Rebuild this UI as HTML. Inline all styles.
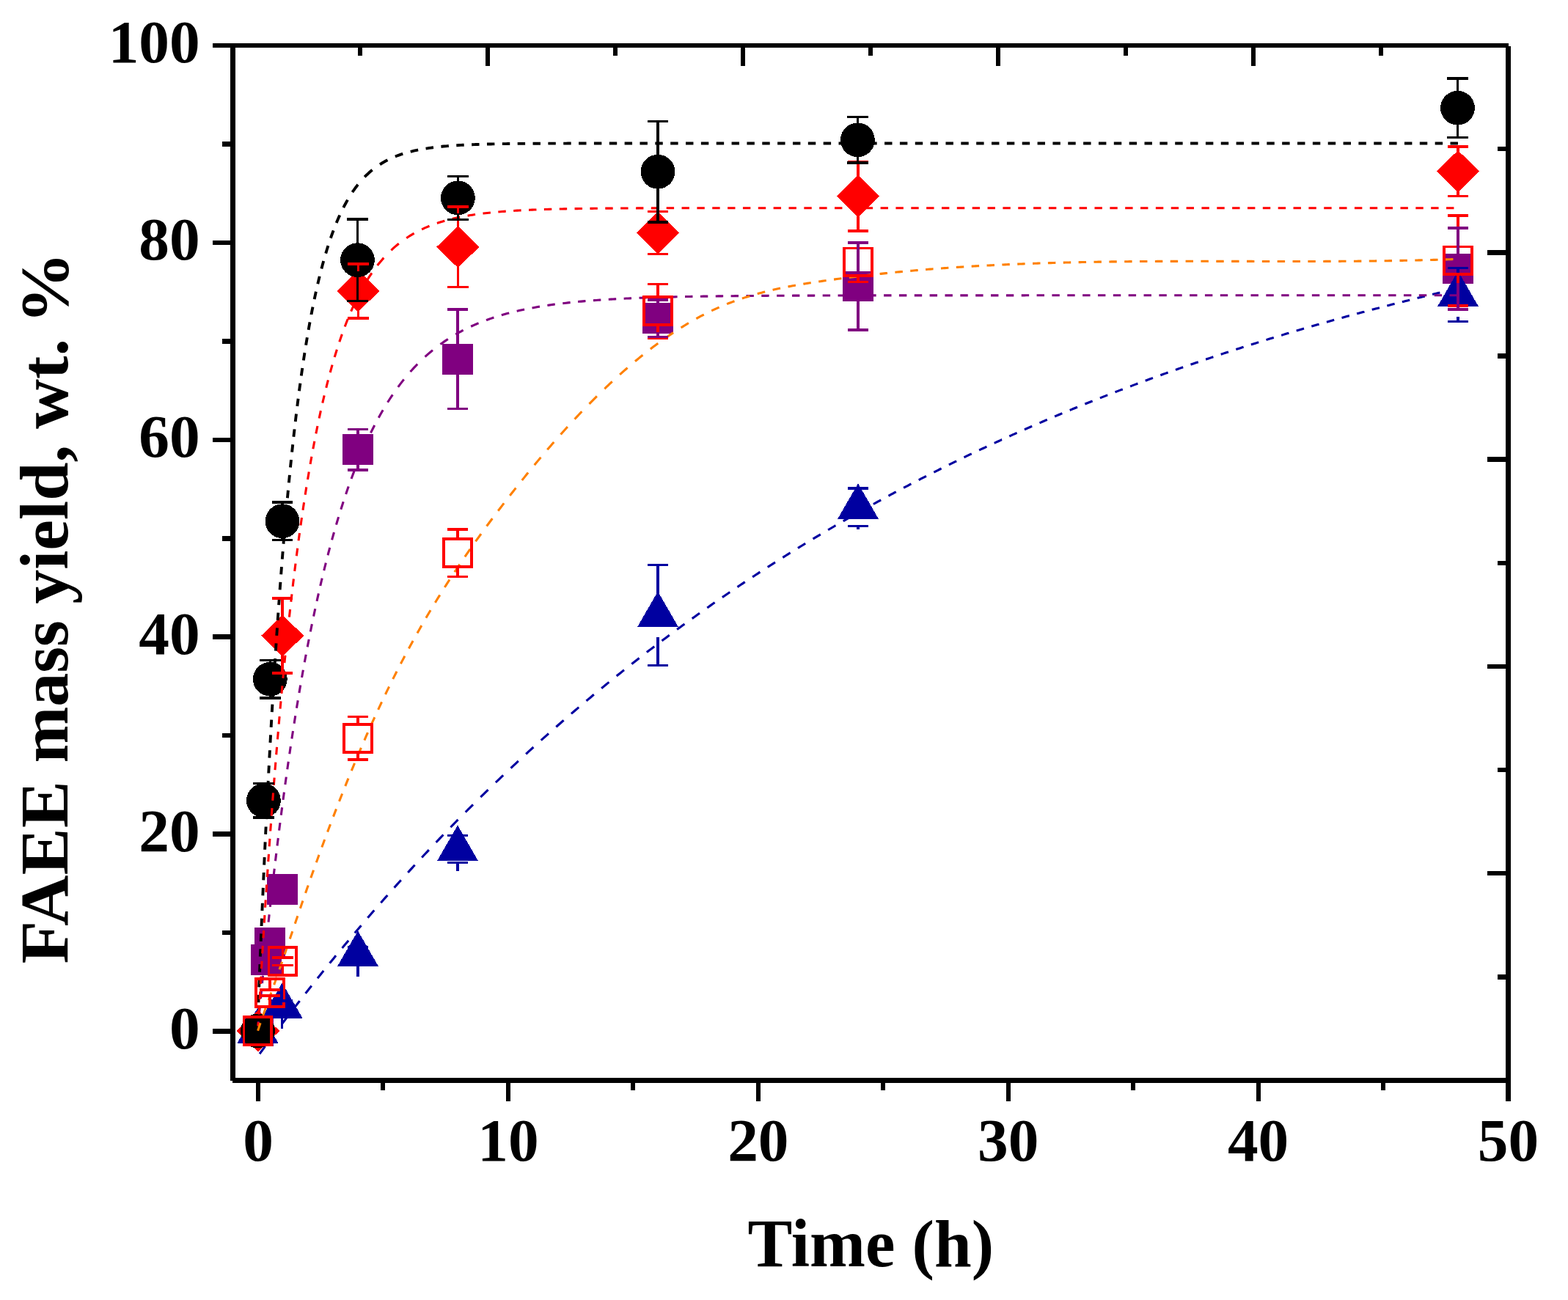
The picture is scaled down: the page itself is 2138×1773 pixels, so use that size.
<!DOCTYPE html>
<html><head><meta charset="utf-8"><title>FAEE mass yield vs time</title><style>html,body{margin:0;padding:0;background:#fff;overflow:hidden;}svg{display:block;}</style></head><body>
<svg width="2138" height="1773" viewBox="0 0 2138 1773">
<rect width="2138" height="1773" fill="#FFFFFF"/>
<g shape-rendering="crispEdges">
<rect x="331.10" y="1385.10" width="41.8" height="41.8" fill="#800080"/>
<rect x="342.10" y="1288.00" width="41.8" height="41.8" fill="#800080"/>
<rect x="347.10" y="1265.10" width="41.8" height="41.8" fill="#800080"/>
<rect x="364.10" y="1192.10" width="41.8" height="41.8" fill="#800080"/>
<rect x="467.10" y="592.35" width="41.8" height="41.8" fill="#800080"/>
<rect x="603.10" y="468.85" width="41.8" height="41.8" fill="#800080"/>
<rect x="876.10" y="413.30" width="41.8" height="41.8" fill="#800080"/>
<rect x="1149.10" y="369.55" width="41.8" height="41.8" fill="#800080"/>
<rect x="1967.10" y="345.60" width="41.8" height="41.8" fill="#800080"/>
<polygon points="351.50,1374.07 379.50,1422.57 323.50,1422.57" fill="#0000A0"/>
<polygon points="384.70,1340.37 412.70,1388.87 356.70,1388.87" fill="#0000A0"/>
<polygon points="488.00,1269.47 516.00,1317.97 460.00,1317.97" fill="#0000A0"/>
<polygon points="624.00,1125.62 652.00,1174.12 596.00,1174.12" fill="#0000A0"/>
<polygon points="897.00,806.62 925.00,855.12 869.00,855.12" fill="#0000A0"/>
<polygon points="1170.00,659.37 1198.00,707.87 1142.00,707.87" fill="#0000A0"/>
<polygon points="1988.00,369.57 2016.00,418.07 1960.00,418.07" fill="#0000A0"/>
</g>
<path d="M354.04 1437.24 L354.06 1437.22 L354.57 1436.52 L355.08 1435.82 L355.60 1435.12 L356.11 1434.42 L356.63 1433.73 L357.14 1433.03 L357.65 1432.33 L358.17 1431.63 L358.68 1430.94 L359.19 1430.24 L359.71 1429.55 L360.22 1428.85 L360.74 1428.16 L361.25 1427.46 L361.64 1426.94 M369.30 1416.64 L369.47 1416.40 L369.99 1415.71 L370.50 1415.03 L371.02 1414.34 L371.53 1413.65 L372.04 1412.97 L372.56 1412.28 L373.07 1411.59 L373.58 1410.91 L374.10 1410.22 L374.61 1409.54 L375.13 1408.85 L375.64 1408.17 L376.15 1407.49 L376.67 1406.80 L377.02 1406.34 M384.81 1396.04 L384.89 1395.93 L385.40 1395.25 L385.92 1394.58 L386.43 1393.90 L386.95 1393.22 L387.46 1392.55 L387.97 1391.87 L388.49 1391.20 L389.00 1390.53 L389.52 1389.85 L390.03 1389.18 L390.54 1388.51 L391.06 1387.83 L391.57 1387.16 L392.09 1386.49 L392.60 1385.82 L392.66 1385.74 M400.58 1375.44 L400.82 1375.13 L401.34 1374.46 L401.85 1373.80 L402.36 1373.13 L402.88 1372.47 L403.39 1371.81 L403.91 1371.14 L404.42 1370.48 L404.93 1369.82 L405.45 1369.16 L405.96 1368.49 L406.48 1367.83 L406.99 1367.17 L407.50 1366.51 L408.02 1365.85 L408.53 1365.19 L408.57 1365.14 M416.63 1354.84 L416.75 1354.68 L417.27 1354.03 L417.78 1353.38 L418.30 1352.72 L418.81 1352.07 L419.32 1351.42 L419.84 1350.77 L420.35 1350.12 L420.87 1349.46 L421.38 1348.81 L421.89 1348.16 L422.41 1347.51 L422.92 1346.86 L423.43 1346.21 L423.95 1345.57 L424.46 1344.92 L424.76 1344.54 M432.97 1334.24 L433.20 1333.95 L433.71 1333.30 L434.23 1332.66 L434.74 1332.02 L435.25 1331.38 L435.77 1330.74 L436.28 1330.10 L436.80 1329.46 L437.31 1328.82 L437.82 1328.18 L438.34 1327.54 L438.85 1326.90 L439.37 1326.26 L439.88 1325.63 L440.39 1324.99 L440.91 1324.35 L441.24 1323.94 M449.59 1313.64 L449.64 1313.57 L450.16 1312.94 L450.67 1312.31 L451.19 1311.68 L451.70 1311.05 L452.21 1310.42 L452.73 1309.79 L453.24 1309.16 L453.76 1308.54 L454.27 1307.91 L456.83 1304.78 L458.02 1303.34 M466.52 1293.04 L467.08 1292.37 L469.64 1289.29 L472.20 1286.22 L474.76 1283.15 L475.11 1282.74 M483.77 1272.44 L485.00 1270.98 L487.56 1267.96 L490.12 1264.94 L492.52 1262.14 M501.34 1251.84 L502.93 1250.00 L505.49 1247.03 L508.05 1244.08 L510.26 1241.54 M519.26 1231.24 L520.86 1229.42 L523.42 1226.51 L525.98 1223.61 L528.35 1220.94 M537.53 1210.64 L538.78 1209.24 L541.34 1206.38 L543.91 1203.54 L546.47 1200.70 L546.80 1200.34 M556.17 1190.04 L556.71 1189.44 L559.27 1186.64 L561.83 1183.85 L564.39 1181.07 L565.63 1179.74 M575.19 1169.44 L577.20 1167.28 L579.76 1164.54 L582.32 1161.82 L584.84 1159.14 M594.61 1148.84 L595.13 1148.29 L597.69 1145.61 L600.25 1142.93 L602.81 1140.26 L604.47 1138.54 M614.44 1128.24 L615.61 1127.03 L618.18 1124.41 L620.74 1121.79 L623.30 1119.18 L624.52 1117.94 M634.71 1107.64 L636.10 1106.24 L638.66 1103.67 L641.22 1101.11 L643.79 1098.56 L645.00 1097.35 M655.30 1087.17 L656.59 1085.90 L659.15 1083.39 L661.71 1080.89 L664.27 1078.39 L665.60 1077.10 M675.90 1067.15 L677.08 1066.01 L679.64 1063.56 L682.20 1061.11 L684.76 1058.67 L686.20 1057.30 M696.50 1047.56 L697.57 1046.56 L700.13 1044.16 L702.69 1041.76 L705.25 1039.37 L706.80 1037.93 M717.10 1028.41 L718.05 1027.53 L720.62 1025.18 L723.18 1022.84 L725.74 1020.50 L727.40 1018.99 M737.70 1009.68 L738.54 1008.92 L741.10 1006.62 L743.67 1004.33 L746.23 1002.05 L748.00 1000.47 M758.30 991.36 L759.03 990.72 L761.59 988.47 L764.15 986.23 L766.71 983.99 L768.60 982.35 M778.90 973.44 L779.52 972.91 L782.08 970.71 L784.64 968.52 L787.20 966.33 L789.20 964.63 M799.50 955.92 L800.01 955.50 L802.57 953.35 L805.13 951.20 L807.69 949.06 L809.80 947.31 M820.10 938.79 L820.50 938.46 L823.06 936.36 L825.62 934.26 L828.18 932.17 L830.40 930.36 M840.70 922.03 L840.98 921.80 L843.54 919.75 L846.11 917.70 L848.67 915.65 L851.00 913.79 M861.30 905.64 L861.47 905.51 L864.03 903.50 L866.59 901.49 L869.15 899.49 L871.60 897.59 M881.90 889.62 L881.96 889.57 L884.52 887.60 L887.08 885.64 L889.64 883.68 L892.20 881.74 M902.50 873.94 L905.01 872.06 L907.57 870.14 L910.13 868.22 L912.69 866.32 L912.80 866.24 M923.10 858.61 L925.50 856.85 L928.06 854.98 L930.62 853.10 L933.18 851.24 L933.40 851.08 M943.70 843.62 L945.99 841.98 L948.55 840.14 L951.11 838.31 L953.67 836.49 L954.00 836.25 M964.30 828.96 L966.47 827.43 L969.03 825.64 L971.60 823.85 L974.16 822.06 L974.60 821.75 M984.90 814.63 L986.96 813.21 L989.52 811.45 L992.08 809.70 L994.64 807.95 L995.20 807.58 M1005.50 800.60 L1007.45 799.29 L1010.01 797.57 L1012.57 795.86 L1015.13 794.15 L1015.80 793.71 M1026.10 786.89 L1027.94 785.68 L1030.50 784.00 L1033.06 782.33 L1035.62 780.65 L1036.40 780.15 M1046.70 773.48 L1048.43 772.37 L1050.99 770.73 L1053.55 769.09 L1056.11 767.45 L1057.00 766.89 M1067.30 760.36 L1068.91 759.35 L1071.48 757.74 L1074.04 756.14 L1076.60 754.54 L1077.60 753.92 M1087.90 747.54 L1089.40 746.61 L1091.96 745.04 L1094.52 743.47 L1097.09 741.91 L1098.20 741.23 M1108.50 734.99 L1109.89 734.16 L1112.45 732.62 L1115.01 731.09 L1117.57 729.56 L1118.80 728.83 M1129.10 722.73 L1130.38 721.97 L1132.94 720.47 L1135.50 718.97 L1138.06 717.47 L1139.40 716.69 M1149.70 710.73 L1150.87 710.06 L1153.43 708.59 L1155.99 707.12 L1158.55 705.66 L1160.00 704.83 M1170.30 699.00 L1171.36 698.40 L1173.92 696.96 L1176.48 695.53 L1179.04 694.10 L1180.60 693.23 M1190.90 687.52 L1191.84 687.00 L1194.40 685.59 L1196.97 684.19 L1199.53 682.79 L1201.20 681.88 M1211.50 676.30 L1212.33 675.85 L1214.89 674.48 L1217.45 673.10 L1220.01 671.73 L1221.80 670.78 M1232.10 665.33 L1232.82 664.95 L1235.38 663.60 L1237.94 662.26 L1240.50 660.92 L1242.40 659.93 M1252.70 654.59 L1253.31 654.28 L1255.87 652.96 L1258.43 651.65 L1260.99 650.34 L1263.00 649.32 M1273.30 644.10 L1273.80 643.85 L1276.36 642.56 L1278.92 641.27 L1281.48 639.99 L1283.60 638.94 M1293.90 633.83 L1294.28 633.64 L1296.85 632.38 L1299.41 631.13 L1301.97 629.87 L1304.20 628.78 M1314.50 623.79 L1314.77 623.66 L1317.33 622.43 L1319.89 621.20 L1322.46 619.97 L1324.80 618.86 M1335.10 613.97 L1335.26 613.90 L1337.82 612.69 L1340.38 611.49 L1342.94 610.29 L1345.40 609.15 M1355.70 604.37 L1355.75 604.35 L1358.31 603.17 L1360.87 602.00 L1363.43 600.82 L1365.99 599.65 L1366.00 599.65 M1376.30 594.98 L1378.80 593.86 L1381.36 592.71 L1383.92 591.56 L1386.48 590.42 L1386.60 590.37 M1396.90 585.80 L1399.29 584.75 L1401.85 583.62 L1404.41 582.50 L1406.97 581.38 L1407.20 581.28 M1417.50 576.82 L1419.77 575.84 L1422.33 574.74 L1424.90 573.64 L1427.46 572.55 L1427.80 572.40 M1438.10 568.04 L1440.26 567.12 L1442.82 566.05 L1445.38 564.98 L1447.95 563.91 L1448.40 563.72 M1458.70 559.45 L1460.75 558.60 L1463.31 557.55 L1465.87 556.50 L1468.43 555.45 L1469.00 555.22 M1479.30 551.05 L1481.24 550.26 L1483.80 549.24 L1486.36 548.21 L1488.92 547.19 L1489.60 546.92 M1499.90 542.83 L1501.73 542.11 L1504.29 541.10 L1506.85 540.10 L1509.41 539.10 L1510.20 538.79 M1520.50 534.80 L1522.21 534.14 L1524.78 533.15 L1527.34 532.17 L1529.90 531.19 L1530.80 530.85 M1541.10 526.94 L1542.70 526.33 L1545.26 525.37 L1547.82 524.41 L1550.39 523.45 L1551.40 523.08 M1561.70 519.25 L1563.19 518.71 L1565.75 517.76 L1568.31 516.82 L1570.87 515.89 L1572.00 515.48 M1582.30 511.74 L1583.68 511.24 L1586.24 510.32 L1588.80 509.40 L1591.36 508.49 L1592.60 508.04 M1602.90 504.39 L1604.17 503.94 L1606.73 503.04 L1609.29 502.14 L1611.85 501.25 L1613.20 500.78 M1623.50 497.20 L1624.66 496.80 L1627.22 495.92 L1629.78 495.04 L1632.34 494.17 L1633.80 493.67 M1644.10 490.17 L1645.14 489.82 L1647.70 488.96 L1650.27 488.10 L1652.83 487.24 L1654.40 486.72 M1664.70 483.30 L1665.63 482.99 L1668.19 482.15 L1670.75 481.31 L1673.31 480.47 L1675.00 479.92 M1685.30 476.58 L1686.12 476.31 L1688.68 475.49 L1691.24 474.67 L1693.80 473.85 L1695.60 473.27 M1705.90 470.00 L1706.61 469.78 L1709.17 468.97 L1711.73 468.17 L1714.29 467.37 L1716.20 466.77 M1726.50 463.57 L1727.10 463.39 L1729.66 462.60 L1732.22 461.81 L1734.78 461.03 L1736.80 460.41 M1747.10 457.28 L1747.58 457.14 L1750.15 456.37 L1752.71 455.60 L1755.27 454.83 L1757.40 454.19 M1767.70 451.13 L1768.07 451.02 L1770.63 450.27 L1773.19 449.52 L1775.76 448.77 L1778.00 448.11 M1788.30 445.12 L1788.56 445.04 L1791.12 444.31 L1793.68 443.57 L1796.24 442.84 L1798.60 442.16 M1808.90 439.24 L1809.05 439.20 L1811.61 438.47 L1814.17 437.75 L1816.73 437.04 L1819.20 436.35 M1829.50 433.49 L1829.54 433.48 L1832.10 432.77 L1834.66 432.07 L1837.22 431.36 L1839.78 430.66 L1839.80 430.66 M1850.10 427.86 L1852.59 427.19 L1855.15 426.50 L1857.71 425.81 L1860.27 425.13 L1860.40 425.09 M1870.70 422.36 L1873.07 421.73 L1875.64 421.06 L1878.20 420.39 L1880.76 419.72 L1881.00 419.65 M1891.30 416.98 L1893.56 416.40 L1896.12 415.74 L1898.68 415.08 L1901.25 414.42 L1901.60 414.33 M1911.90 411.72 L1914.05 411.17 L1916.61 410.53 L1919.17 409.89 L1921.73 409.25 L1922.20 409.13 M1932.50 406.57 L1934.54 406.07 L1937.10 405.44 L1939.66 404.81 L1942.22 404.18 L1942.80 404.04 M1953.10 401.54 L1955.03 401.07 L1957.59 400.46 L1960.15 399.84 L1962.71 399.23 L1963.40 399.06 M1973.70 396.62 L1975.51 396.19 L1978.08 395.59 L1980.64 394.98 L1983.20 394.38 L1984.00 394.20" fill="none" stroke="#0000A0" stroke-width="3.1" stroke-linejoin="round"/>
<g shape-rendering="crispEdges">
<polygon points="322.90,1406.00 352.00,1377.40 381.10,1406.00 352.00,1434.60" fill="#FF0000"/>
<polygon points="356.00,867.00 385.10,838.40 414.20,867.00 385.10,895.60" fill="#FF0000"/>
<polygon points="459.20,396.85 488.30,368.25 517.40,396.85 488.30,425.45" fill="#FF0000"/>
<polygon points="595.30,336.70 624.40,308.10 653.50,336.70 624.40,365.30" fill="#FF0000"/>
<polygon points="867.90,317.50 897.00,288.90 926.10,317.50 897.00,346.10" fill="#FF0000"/>
<polygon points="1140.90,267.55 1170.00,238.95 1199.10,267.55 1170.00,296.15" fill="#FF0000"/>
<polygon points="1958.90,233.70 1988.00,205.10 2017.10,233.70 1988.00,262.30" fill="#FF0000"/>
<circle cx="351.5" cy="1406" r="23.4" fill="#000000"/>
<circle cx="359.4" cy="1091.75" r="23.4" fill="#000000"/>
<circle cx="368.3" cy="926.2" r="23.4" fill="#000000"/>
<circle cx="385" cy="710.75" r="23.4" fill="#000000"/>
<circle cx="487.5" cy="354.65" r="23.4" fill="#000000"/>
<circle cx="624.4" cy="269.95" r="23.4" fill="#000000"/>
<circle cx="897" cy="234.25" r="23.4" fill="#000000"/>
<circle cx="1169.4" cy="190.85" r="23.4" fill="#000000"/>
<circle cx="1987.5" cy="147.2" r="23.4" fill="#000000"/>
</g>
<path d="M352.38 1367.25 L352.51 1363.62 L352.78 1356.83 M353.18 1346.40 L353.54 1337.06 L353.58 1335.98 M353.99 1325.55 L354.06 1324.01 L354.41 1315.13 M354.83 1304.70 L355.08 1298.35 L355.25 1294.28 M355.68 1283.85 L356.10 1273.43 M356.54 1263.00 L356.63 1260.95 L356.98 1252.58 M357.42 1242.15 L357.65 1236.72 L357.87 1231.73 M358.32 1221.30 L358.68 1213.05 L358.78 1210.88 M359.24 1200.45 L359.70 1190.03 M360.17 1179.60 L360.22 1178.54 L360.65 1169.18 M361.13 1158.75 L361.25 1156.19 L361.62 1148.33 M362.11 1137.90 L362.28 1134.34 L362.61 1127.48 M363.11 1117.05 L363.31 1113.00 L363.62 1106.63 M364.13 1096.20 L364.33 1092.13 L364.65 1085.78 M365.18 1075.35 L365.36 1071.75 L365.71 1064.93 M366.25 1054.50 L366.39 1051.82 L366.80 1044.08 M367.35 1033.65 L367.42 1032.35 L367.91 1023.23 M368.47 1012.80 L368.96 1003.97 L369.05 1002.38 M369.63 991.95 L369.99 985.59 L370.22 981.53 M370.81 971.10 L371.02 967.62 L371.42 960.68 M372.03 950.25 L372.04 950.07 L372.56 941.44 L372.65 939.83 M373.28 929.40 L373.58 924.48 L373.92 918.98 M374.57 908.55 L374.61 907.90 L375.13 899.76 L375.23 898.13 M375.90 887.70 L376.15 883.74 L376.58 877.28 M377.26 866.85 L377.70 860.40 L377.96 856.43 M378.67 846.00 L378.72 845.28 L379.24 837.85 L379.40 835.58 M380.13 825.15 L380.27 823.25 L380.78 816.07 L380.88 814.73 M381.64 804.30 L381.81 801.96 L382.32 795.02 L382.41 793.88 M383.19 783.45 L383.35 781.39 L383.86 774.69 L383.99 773.03 M384.81 762.60 L384.89 761.52 L385.40 755.05 L385.64 752.18 M386.48 741.75 L386.95 736.07 L387.34 731.33 M388.22 720.90 L388.49 717.74 L389.00 711.77 L389.11 710.48 M390.03 700.05 L390.03 700.03 L390.54 694.26 L390.96 689.63 M391.91 679.20 L392.09 677.35 L392.60 671.84 L392.89 668.78 M393.88 658.35 L394.14 655.68 L394.66 650.42 L394.90 647.93 M395.94 637.50 L396.20 634.99 L396.71 629.97 L397.01 627.08 M398.10 616.65 L398.25 615.23 L398.77 610.43 L399.22 606.23 M400.37 595.80 L400.82 591.78 L401.34 587.25 L401.55 585.38 M402.76 574.95 L402.88 573.96 L403.39 569.63 L403.91 565.36 L404.01 564.53 M405.29 554.10 L405.45 552.81 L405.96 548.73 L406.48 544.69 L406.61 543.68 M407.96 533.25 L408.02 532.85 L408.53 528.99 L409.05 525.18 L409.37 522.83 M410.81 512.40 L411.10 510.35 L411.61 506.75 L412.13 503.19 L412.31 501.98 M413.85 491.55 L414.18 489.36 L414.70 486.00 L415.21 482.68 L415.45 481.13 M417.12 470.70 L417.27 469.77 L417.78 466.63 L418.30 463.53 L418.81 460.46 L418.84 460.28 M420.64 449.85 L420.87 448.55 L421.38 445.66 L421.89 442.80 L422.41 439.97 L422.51 439.43 M424.46 429.00 L424.46 428.98 L424.98 426.31 L425.49 423.67 L426.00 421.06 L426.50 418.58 M428.64 408.15 L429.09 406.02 L429.60 403.61 L430.12 401.23 L430.63 398.88 L430.88 397.73 M433.25 387.30 L433.71 385.32 L434.23 383.15 L434.74 381.00 L435.25 378.88 L435.75 376.88 M438.39 366.45 L438.85 364.70 L439.37 362.76 L439.88 360.85 L440.39 358.96 L440.91 357.09 L441.20 356.03 M444.20 345.60 L444.51 344.59 L445.02 342.88 L445.53 341.20 L446.05 339.53 L446.56 337.88 L447.08 336.26 L447.42 335.18 M450.89 324.75 L451.19 323.88 L451.70 322.41 L452.21 320.96 L452.73 319.53 L453.24 318.11 L453.76 316.71 L454.27 315.32 L454.65 314.33 M458.76 303.90 L459.39 302.34 L461.95 296.39 L463.28 293.48 M468.31 283.05 L469.64 280.45 L472.20 275.72 L473.97 272.63 M480.46 262.20 L482.44 259.28 L485.00 255.73 L487.56 252.37 L488.05 251.78 M497.20 241.35 L497.81 240.72 L500.37 238.20 L502.93 235.82 L505.49 233.57 L507.60 231.83 M518.03 224.26 L518.30 224.08 L520.86 222.49 L523.42 220.99 L525.98 219.57 L528.45 218.27 M538.88 213.53 L541.34 212.56 L543.91 211.61 L546.47 210.71 L549.03 209.86 L549.30 209.78 M559.73 206.80 L561.83 206.28 L564.39 205.68 L566.95 205.11 L569.52 204.57 L570.15 204.45 M580.58 202.58 L582.32 202.31 L584.88 201.93 L587.44 201.57 L590.00 201.23 L591.00 201.11 M601.43 199.94 L602.81 199.80 L605.37 199.56 L607.93 199.33 L610.49 199.12 L611.85 199.01 M622.28 198.27 L623.30 198.21 L625.86 198.06 L628.42 197.92 L630.98 197.78 L632.70 197.69 M643.13 197.23 L643.79 197.21 L646.35 197.11 L648.91 197.02 L651.47 196.93 L653.55 196.87 M663.98 196.58 L664.27 196.57 L666.83 196.51 L669.40 196.45 L671.96 196.40 L674.40 196.35 M684.83 196.17 L687.32 196.13 L689.88 196.10 L692.44 196.06 L695.01 196.03 L695.25 196.03 M705.68 195.91 L707.81 195.89 L710.37 195.87 L712.93 195.85 L715.49 195.83 L716.10 195.82 M726.53 195.75 L728.30 195.74 L730.86 195.73 L733.42 195.71 L735.98 195.70 L736.95 195.70 M747.38 195.65 L748.79 195.65 L751.35 195.64 L753.91 195.63 L756.47 195.62 L757.80 195.62 M768.23 195.59 L769.28 195.59 L771.84 195.58 L774.40 195.57 L776.96 195.57 L778.65 195.57 M789.08 195.55 L789.76 195.55 L792.32 195.54 L794.89 195.54 L797.45 195.54 L799.50 195.53 M809.93 195.52 L810.25 195.52 L812.81 195.52 L815.37 195.52 L817.93 195.52 L820.35 195.52 M830.78 195.51 L833.30 195.51 L835.86 195.51 L838.42 195.50 L840.98 195.50 L841.20 195.50 M851.63 195.50 L853.79 195.50 L856.35 195.50 L858.91 195.50 L861.47 195.50 L862.05 195.49 M872.48 195.49 L874.28 195.49 L876.84 195.49 L879.40 195.49 L881.96 195.49 L882.90 195.49 M893.33 195.49 L894.77 195.49 L897.33 195.49 L899.89 195.49 L902.45 195.49 L903.75 195.49 M914.18 195.49 L915.25 195.49 L917.81 195.49 L920.38 195.49 L922.94 195.49 L924.60 195.49 M935.03 195.48 L935.74 195.48 L938.30 195.48 L940.86 195.48 L943.42 195.48 L945.45 195.48 M955.88 195.48 L956.23 195.48 L958.79 195.48 L961.35 195.48 L963.91 195.48 L966.30 195.48 M976.73 195.48 L979.28 195.48 L981.84 195.48 L984.40 195.48 L986.96 195.48 L987.15 195.48 M997.58 195.48 L999.77 195.48 L1002.33 195.48 L1004.89 195.48 L1007.45 195.48 L1008.00 195.48 M1018.43 195.48 L1020.26 195.48 L1022.82 195.48 L1025.38 195.48 L1027.94 195.48 L1028.85 195.48 M1039.28 195.48 L1040.74 195.48 L1043.30 195.48 L1045.87 195.48 L1048.43 195.48 L1049.70 195.48 M1060.13 195.48 L1061.23 195.48 L1063.79 195.48 L1066.35 195.48 L1068.91 195.48 L1070.55 195.48 M1080.98 195.48 L1081.72 195.48 L1084.28 195.48 L1086.84 195.48 L1089.40 195.48 L1091.40 195.48 M1101.83 195.48 L1102.21 195.48 L1104.77 195.48 L1107.33 195.48 L1109.89 195.48 L1112.25 195.48 M1122.68 195.48 L1122.70 195.48 L1125.26 195.48 L1127.82 195.48 L1130.38 195.48 L1132.94 195.48 L1133.10 195.48 M1143.53 195.48 L1145.74 195.48 L1148.31 195.48 L1150.87 195.48 L1153.43 195.48 L1153.95 195.48 M1164.38 195.48 L1166.23 195.48 L1168.79 195.48 L1171.36 195.48 L1173.92 195.48 L1174.80 195.48 M1185.23 195.48 L1186.72 195.48 L1189.28 195.48 L1191.84 195.48 L1194.40 195.48 L1195.65 195.48 M1206.08 195.48 L1207.21 195.48 L1209.77 195.48 L1212.33 195.48 L1214.89 195.48 L1216.50 195.48 M1226.93 195.48 L1227.70 195.48 L1230.26 195.48 L1232.82 195.48 L1235.38 195.48 L1237.35 195.48 M1247.78 195.48 L1248.19 195.48 L1250.75 195.48 L1253.31 195.48 L1255.87 195.48 L1258.20 195.48 M1268.63 195.48 L1268.67 195.48 L1271.23 195.48 L1273.80 195.48 L1276.36 195.48 L1278.92 195.48 L1279.05 195.48 M1289.48 195.48 L1291.72 195.48 L1294.28 195.48 L1296.85 195.48 L1299.41 195.48 L1299.90 195.48 M1310.33 195.48 L1312.21 195.48 L1314.77 195.48 L1317.33 195.48 L1319.89 195.48 L1320.75 195.48 M1331.18 195.48 L1332.70 195.48 L1335.26 195.48 L1337.82 195.48 L1340.38 195.48 L1341.60 195.48 M1352.03 195.48 L1353.19 195.48 L1355.75 195.48 L1358.31 195.48 L1360.87 195.48 L1362.45 195.48 M1372.88 195.48 L1373.68 195.48 L1376.24 195.48 L1378.80 195.48 L1381.36 195.48 L1383.30 195.48 M1393.73 195.48 L1394.16 195.48 L1396.72 195.48 L1399.29 195.48 L1401.85 195.48 L1404.15 195.48 M1414.58 195.48 L1414.65 195.48 L1417.21 195.48 L1419.77 195.48 L1422.33 195.48 L1424.90 195.48 L1425.00 195.48 M1435.42 195.48 L1437.70 195.48 L1440.26 195.48 L1442.82 195.48 L1445.38 195.48 L1445.85 195.48 M1456.27 195.48 L1458.19 195.48 L1460.75 195.48 L1463.31 195.48 L1465.87 195.48 L1466.70 195.48 M1477.12 195.48 L1478.68 195.48 L1481.24 195.48 L1483.80 195.48 L1486.36 195.48 L1487.55 195.48 M1497.97 195.48 L1499.17 195.48 L1501.73 195.48 L1504.29 195.48 L1506.85 195.48 L1508.40 195.48 M1518.82 195.48 L1519.65 195.48 L1522.21 195.48 L1524.78 195.48 L1527.34 195.48 L1529.25 195.48 M1539.67 195.48 L1540.14 195.48 L1542.70 195.48 L1545.26 195.48 L1547.82 195.48 L1550.10 195.48 M1560.52 195.48 L1560.63 195.48 L1563.19 195.48 L1565.75 195.48 L1568.31 195.48 L1570.87 195.48 L1570.95 195.48 M1581.37 195.48 L1583.68 195.48 L1586.24 195.48 L1588.80 195.48 L1591.36 195.48 L1591.80 195.48 M1602.22 195.48 L1604.17 195.48 L1606.73 195.48 L1609.29 195.48 L1611.85 195.48 L1612.65 195.48 M1623.07 195.48 L1624.66 195.48 L1627.22 195.48 L1629.78 195.48 L1632.34 195.48 L1633.50 195.48 M1643.92 195.48 L1645.14 195.48 L1647.70 195.48 L1650.27 195.48 L1652.83 195.48 L1654.35 195.48 M1664.77 195.48 L1665.63 195.48 L1668.19 195.48 L1670.75 195.48 L1673.31 195.48 L1675.20 195.48 M1685.62 195.48 L1686.12 195.48 L1688.68 195.48 L1691.24 195.48 L1693.80 195.48 L1696.05 195.48 M1706.47 195.48 L1706.61 195.48 L1709.17 195.48 L1711.73 195.48 L1714.29 195.48 L1716.85 195.48 L1716.90 195.48 M1727.32 195.48 L1729.66 195.48 L1732.22 195.48 L1734.78 195.48 L1737.34 195.48 L1737.75 195.48 M1748.17 195.48 L1750.15 195.48 L1752.71 195.48 L1755.27 195.48 L1757.83 195.48 L1758.60 195.48 M1769.02 195.48 L1770.63 195.48 L1773.19 195.48 L1775.76 195.48 L1778.32 195.48 L1779.45 195.48 M1789.87 195.48 L1791.12 195.48 L1793.68 195.48 L1796.24 195.48 L1798.80 195.48 L1800.30 195.48 M1810.72 195.48 L1811.61 195.48 L1814.17 195.48 L1816.73 195.48 L1819.29 195.48 L1821.15 195.48 M1831.57 195.48 L1832.10 195.48 L1834.66 195.48 L1837.22 195.48 L1839.78 195.48 L1842.00 195.48 M1852.42 195.48 L1852.59 195.48 L1855.15 195.48 L1857.71 195.48 L1860.27 195.48 L1862.83 195.48 L1862.85 195.48 M1873.27 195.48 L1875.64 195.48 L1878.20 195.48 L1880.76 195.48 L1883.32 195.48 L1883.70 195.48 M1894.12 195.48 L1896.12 195.48 L1898.68 195.48 L1901.25 195.48 L1903.81 195.48 L1904.55 195.48 M1914.97 195.48 L1916.61 195.48 L1919.17 195.48 L1921.73 195.48 L1924.29 195.48 L1925.40 195.48 M1935.82 195.48 L1937.10 195.48 L1939.66 195.48 L1942.22 195.48 L1944.78 195.48 L1946.25 195.48 M1956.67 195.48 L1957.59 195.48 L1960.15 195.48 L1962.71 195.48 L1965.27 195.48 L1967.10 195.48 M1977.52 195.48 L1978.08 195.48 L1980.64 195.48 L1983.20 195.48 L1985.76 195.48 L1987.95 195.48" fill="none" stroke="#000000" stroke-width="3.9" stroke-linejoin="round"/>
<path d="M352.00 1398.85 L352.51 1393.30 L352.52 1393.21 M353.50 1382.79 L353.54 1382.29 L354.06 1376.83 L354.48 1372.36 M355.47 1361.94 L355.60 1360.63 L356.11 1355.29 L356.48 1351.51 M357.49 1341.09 L357.65 1339.45 L358.17 1334.23 L358.52 1330.66 M359.56 1320.24 L359.71 1318.74 L360.22 1313.64 L360.61 1309.81 M361.67 1299.39 L361.76 1298.49 L362.28 1293.50 L362.75 1288.96 M363.84 1278.54 L364.33 1273.80 L364.85 1268.95 L364.94 1268.11 M366.05 1257.69 L366.39 1254.54 L366.90 1249.79 L367.18 1247.26 M368.32 1236.84 L368.45 1235.71 L368.96 1231.07 L369.47 1226.45 L369.48 1226.41 M370.65 1215.99 L371.02 1212.75 L371.53 1208.24 L371.84 1205.56 M373.04 1195.14 L373.07 1194.84 L373.58 1190.43 L374.10 1186.04 L374.25 1184.71 M375.49 1174.29 L375.64 1173.01 L376.15 1168.72 L376.67 1164.45 L376.74 1163.86 M378.01 1153.44 L378.21 1151.78 L378.72 1147.61 L379.24 1143.46 L379.29 1143.01 M380.60 1132.59 L380.78 1131.14 L381.29 1127.08 L381.81 1123.04 L381.92 1122.16 M383.26 1111.74 L383.35 1111.06 L383.86 1107.12 L384.38 1103.19 L384.62 1101.31 M386.01 1090.89 L386.43 1087.70 L386.95 1083.89 L387.41 1080.46 M388.84 1070.04 L389.00 1068.83 L389.52 1065.11 L390.03 1061.42 L390.28 1059.61 M391.75 1049.19 L392.09 1046.86 L392.60 1043.27 L393.11 1039.70 L393.25 1038.76 M394.77 1028.34 L395.17 1025.62 L395.68 1022.14 L396.20 1018.69 L396.31 1017.91 M397.89 1007.49 L398.25 1005.07 L398.77 1001.72 L399.28 998.38 L399.48 997.06 M401.11 986.64 L401.34 985.21 L401.85 981.96 L402.36 978.73 L402.77 976.21 M404.45 965.79 L404.93 962.86 L405.45 959.74 L405.96 956.63 L406.17 955.36 M407.92 944.94 L408.02 944.39 L408.53 941.37 L409.05 938.37 L409.56 935.38 L409.71 934.51 M411.53 924.09 L411.61 923.61 L412.13 920.70 L412.64 917.82 L413.16 914.94 L413.39 913.66 M415.28 903.24 L415.73 900.83 L416.24 898.05 L416.75 895.29 L417.22 892.81 M419.20 882.39 L419.32 881.72 L419.84 879.05 L420.35 876.39 L420.87 873.75 L421.22 871.96 M423.28 861.54 L423.43 860.77 L423.95 858.22 L424.46 855.68 L424.98 853.16 L425.40 851.11 M427.56 840.69 L428.06 838.30 L428.57 835.88 L429.09 833.46 L429.60 831.06 L429.77 830.26 M432.04 819.84 L432.17 819.26 L432.69 816.94 L433.20 814.63 L433.71 812.33 L434.23 810.05 L434.37 809.41 M436.76 798.99 L436.80 798.82 L437.31 796.62 L437.82 794.42 L438.34 792.24 L438.85 790.07 L439.21 788.56 M441.73 778.14 L441.94 777.29 L442.45 775.21 L442.96 773.13 L443.48 771.07 L443.99 769.01 L444.32 767.71 M446.98 757.29 L447.08 756.94 L447.59 754.96 L448.10 753.00 L448.62 751.05 L449.13 749.11 L449.64 747.17 L449.73 746.86 M452.56 736.44 L452.73 735.82 L453.24 733.96 L453.76 732.11 L454.27 730.28 L455.49 726.01 M458.50 715.59 L459.39 712.53 L461.61 705.16 M464.84 694.74 L467.08 687.70 L468.19 684.31 M471.65 673.89 L472.20 672.26 L474.76 664.86 L475.26 663.46 M479.01 653.04 L479.88 650.66 L482.44 643.85 L482.92 642.61 M487.01 632.19 L487.56 630.79 L490.12 624.53 L491.29 621.76 M495.77 611.34 L497.81 606.75 L500.37 601.15 L500.48 600.91 M505.45 590.49 L505.49 590.40 L508.05 585.25 L510.61 580.24 L510.71 580.06 M516.28 569.64 L518.30 566.01 L520.86 561.53 L522.22 559.21 M528.55 548.79 L531.10 544.79 L533.66 540.89 L535.37 538.36 M542.73 527.94 L543.91 526.33 L546.47 522.94 L549.03 519.64 L550.73 517.51 M559.48 507.09 L561.83 504.45 L564.39 501.66 L566.95 498.94 L569.17 496.66 M579.58 486.61 L579.76 486.44 L582.32 484.15 L584.88 481.91 L587.44 479.74 L590.00 477.63 M600.42 469.61 L602.81 467.90 L605.37 466.11 L607.93 464.37 L610.49 462.68 L610.85 462.45 M621.27 456.06 L623.30 454.90 L625.86 453.47 L628.42 452.07 L630.98 450.72 L631.70 450.35 M642.12 445.26 L643.79 444.49 L646.35 443.35 L648.91 442.23 L651.47 441.15 L652.55 440.71 M662.98 436.64 L664.27 436.17 L666.83 435.25 L669.40 434.36 L671.96 433.49 L673.40 433.02 M683.82 429.78 L684.76 429.50 L687.32 428.77 L689.88 428.06 L692.44 427.36 L694.25 426.89 M704.67 424.31 L705.25 424.17 L707.81 423.58 L710.37 423.01 L712.93 422.46 L715.10 422.00 M725.52 419.95 L725.74 419.91 L728.30 419.44 L730.86 418.98 L733.42 418.53 L735.95 418.11 M746.37 416.47 L748.79 416.11 L751.35 415.75 L753.91 415.39 L756.47 415.05 L756.80 415.01 M767.23 413.70 L769.28 413.46 L771.84 413.17 L774.40 412.88 L776.96 412.60 L777.65 412.53 M788.07 411.49 L789.76 411.33 L792.32 411.10 L794.89 410.87 L797.45 410.65 L798.50 410.56 M808.92 409.73 L810.25 409.63 L812.81 409.44 L815.37 409.26 L817.93 409.08 L819.35 408.99 M829.77 408.33 L830.74 408.27 L833.30 408.12 L835.86 407.97 L838.42 407.83 L840.20 407.74 M850.62 407.21 L851.23 407.18 L853.79 407.06 L856.35 406.94 L858.91 406.83 L861.05 406.74 M871.47 406.32 L871.72 406.31 L874.28 406.21 L876.84 406.12 L879.40 406.03 L881.90 405.94 M892.32 405.61 L894.77 405.53 L897.33 405.46 L899.89 405.38 L902.45 405.31 L902.75 405.31 M913.17 405.04 L915.25 404.99 L917.81 404.93 L920.38 404.87 L922.94 404.81 L923.60 404.80 M934.02 404.59 L935.74 404.55 L938.30 404.51 L940.86 404.46 L943.42 404.41 L944.45 404.40 M954.88 404.23 L956.23 404.21 L958.79 404.17 L961.35 404.13 L963.91 404.09 L965.30 404.08 M975.73 403.94 L976.72 403.93 L979.28 403.90 L981.84 403.87 L984.40 403.84 L986.15 403.82 M996.58 403.71 L997.21 403.71 L999.77 403.68 L1002.33 403.66 L1004.89 403.63 L1007.00 403.62 M1017.43 403.53 L1017.69 403.53 L1020.26 403.51 L1022.82 403.49 L1025.38 403.47 L1027.85 403.45 M1038.27 403.38 L1040.74 403.37 L1043.30 403.35 L1045.87 403.34 L1048.43 403.32 L1048.70 403.32 M1059.12 403.27 L1061.23 403.26 L1063.79 403.25 L1066.35 403.23 L1068.91 403.22 L1069.55 403.22 M1079.98 403.18 L1081.72 403.17 L1084.28 403.16 L1086.84 403.15 L1089.40 403.14 L1090.40 403.14 M1100.83 403.10 L1102.21 403.10 L1104.77 403.09 L1107.33 403.08 L1109.89 403.08 L1111.25 403.07 M1121.67 403.04 L1122.70 403.04 L1125.26 403.04 L1127.82 403.03 L1130.38 403.02 L1132.10 403.02 M1142.53 403.00 L1143.18 403.00 L1145.74 402.99 L1148.31 402.99 L1150.87 402.98 L1152.95 402.98 M1163.38 402.96 L1163.67 402.96 L1166.23 402.96 L1168.79 402.95 L1171.36 402.95 L1173.80 402.94 M1184.23 402.93 L1186.72 402.93 L1189.28 402.92 L1191.84 402.92 L1194.40 402.92 L1194.65 402.92 M1205.08 402.91 L1207.21 402.90 L1209.77 402.90 L1212.33 402.90 L1214.89 402.90 L1215.50 402.90 M1225.92 402.89 L1227.70 402.89 L1230.26 402.88 L1232.82 402.88 L1235.38 402.88 L1236.35 402.88 M1246.78 402.87 L1248.19 402.87 L1250.75 402.87 L1253.31 402.87 L1255.87 402.87 L1257.20 402.87 M1267.62 402.86 L1268.67 402.86 L1271.23 402.86 L1273.80 402.86 L1276.36 402.86 L1278.05 402.86 M1288.48 402.85 L1289.16 402.85 L1291.72 402.85 L1294.28 402.85 L1296.85 402.85 L1298.90 402.85 M1309.33 402.84 L1309.65 402.84 L1312.21 402.84 L1314.77 402.84 L1317.33 402.84 L1319.75 402.84 M1330.17 402.84 L1332.70 402.84 L1335.26 402.84 L1337.82 402.84 L1340.38 402.83 L1340.60 402.83 M1351.03 402.83 L1353.19 402.83 L1355.75 402.83 L1358.31 402.83 L1360.87 402.83 L1361.45 402.83 M1371.88 402.83 L1373.68 402.83 L1376.24 402.83 L1378.80 402.83 L1381.36 402.83 L1382.30 402.83 M1392.73 402.83 L1394.16 402.83 L1396.72 402.83 L1399.29 402.82 L1401.85 402.82 L1403.15 402.82 M1413.58 402.82 L1414.65 402.82 L1417.21 402.82 L1419.77 402.82 L1422.33 402.82 L1424.00 402.82 M1434.42 402.82 L1435.14 402.82 L1437.70 402.82 L1440.26 402.82 L1442.82 402.82 L1444.85 402.82 M1455.28 402.82 L1455.63 402.82 L1458.19 402.82 L1460.75 402.82 L1463.31 402.82 L1465.70 402.82 M1476.12 402.82 L1478.68 402.82 L1481.24 402.82 L1483.80 402.82 L1486.36 402.82 L1486.55 402.82 M1496.98 402.82 L1499.17 402.82 L1501.73 402.82 L1504.29 402.82 L1506.85 402.82 L1507.40 402.82 M1517.83 402.82 L1519.65 402.82 L1522.21 402.82 L1524.78 402.82 L1527.34 402.82 L1528.25 402.82 M1538.67 402.82 L1540.14 402.82 L1542.70 402.82 L1545.26 402.82 L1547.82 402.82 L1549.10 402.82 M1559.53 402.82 L1560.63 402.82 L1563.19 402.82 L1565.75 402.82 L1568.31 402.82 L1569.95 402.82 M1580.38 402.82 L1581.12 402.82 L1583.68 402.82 L1586.24 402.81 L1588.80 402.81 L1590.80 402.81 M1601.23 402.81 L1601.61 402.81 L1604.17 402.81 L1606.73 402.81 L1609.29 402.81 L1611.65 402.81 M1622.08 402.81 L1622.09 402.81 L1624.66 402.81 L1627.22 402.81 L1629.78 402.81 L1632.34 402.81 L1632.50 402.81 M1642.92 402.81 L1645.14 402.81 L1647.70 402.81 L1650.27 402.81 L1652.83 402.81 L1653.35 402.81 M1663.78 402.81 L1665.63 402.81 L1668.19 402.81 L1670.75 402.81 L1673.31 402.81 L1674.20 402.81 M1684.62 402.81 L1686.12 402.81 L1688.68 402.81 L1691.24 402.81 L1693.80 402.81 L1695.05 402.81 M1705.48 402.81 L1706.61 402.81 L1709.17 402.81 L1711.73 402.81 L1714.29 402.81 L1715.90 402.81 M1726.33 402.81 L1727.10 402.81 L1729.66 402.81 L1732.22 402.81 L1734.78 402.81 L1736.75 402.81 M1747.17 402.81 L1747.58 402.81 L1750.15 402.81 L1752.71 402.81 L1755.27 402.81 L1757.60 402.81 M1768.02 402.81 L1768.07 402.81 L1770.63 402.81 L1773.19 402.81 L1775.76 402.81 L1778.32 402.81 L1778.45 402.81 M1788.87 402.81 L1791.12 402.81 L1793.68 402.81 L1796.24 402.81 L1798.80 402.81 L1799.30 402.81 M1809.72 402.81 L1811.61 402.81 L1814.17 402.81 L1816.73 402.81 L1819.29 402.81 L1820.15 402.81 M1830.57 402.81 L1832.10 402.81 L1834.66 402.81 L1837.22 402.81 L1839.78 402.81 L1841.00 402.81 M1851.42 402.81 L1852.59 402.81 L1855.15 402.81 L1857.71 402.81 L1860.27 402.81 L1861.85 402.81 M1872.27 402.81 L1873.07 402.81 L1875.64 402.81 L1878.20 402.81 L1880.76 402.81 L1882.70 402.81 M1893.12 402.81 L1893.56 402.81 L1896.12 402.81 L1898.68 402.81 L1901.25 402.81 L1903.55 402.81 M1913.97 402.81 L1914.05 402.81 L1916.61 402.81 L1919.17 402.81 L1921.73 402.81 L1924.29 402.81 L1924.40 402.81 M1934.82 402.81 L1937.10 402.81 L1939.66 402.81 L1942.22 402.81 L1944.78 402.81 L1945.25 402.81 M1955.67 402.81 L1957.59 402.81 L1960.15 402.81 L1962.71 402.81 L1965.27 402.81 L1966.10 402.81 M1976.52 402.81 L1978.08 402.81 L1980.64 402.81 L1983.20 402.81 L1985.76 402.81 L1986.95 402.81" fill="none" stroke="#800080" stroke-width="3.1" stroke-linejoin="round"/>
<path d="M352.00 1399.59 L352.30 1394.13 M352.88 1383.70 L353.03 1381.01 L353.46 1373.28 M354.05 1362.85 L354.06 1362.73 L354.57 1353.71 L354.64 1352.43 M355.24 1342.00 L355.60 1335.89 L355.85 1331.58 M356.46 1321.15 L356.63 1318.37 L357.08 1310.73 M357.70 1300.30 L358.17 1292.63 L358.33 1289.88 M358.97 1279.45 L359.19 1275.82 L359.62 1269.03 M360.27 1258.60 L360.74 1251.14 L360.92 1248.18 M361.59 1237.75 L361.76 1235.03 L362.26 1227.33 M362.94 1216.90 L363.31 1211.37 L363.63 1206.48 M364.32 1196.05 L364.33 1195.92 L364.85 1188.29 L365.03 1185.63 M365.74 1175.20 L365.88 1173.22 L366.39 1165.79 L366.46 1164.78 M367.19 1154.35 L367.42 1151.09 L367.93 1143.93 M368.67 1133.50 L368.96 1129.52 L369.43 1123.08 M370.19 1112.65 L370.50 1108.48 L370.97 1102.23 M371.75 1091.80 L372.04 1087.96 L372.55 1081.38 M373.35 1070.95 L373.58 1067.95 L374.10 1061.39 L374.17 1060.53 M374.99 1050.10 L375.13 1048.44 L375.64 1042.05 L375.83 1039.68 M376.68 1029.25 L377.18 1023.18 L377.54 1018.83 M378.42 1008.40 L378.72 1004.78 L379.24 998.75 L379.30 997.98 M380.20 987.55 L380.27 986.85 L380.78 980.97 L381.12 977.13 M382.04 966.70 L382.32 963.62 L382.84 957.93 L382.99 956.28 M383.94 945.85 L384.38 941.16 L384.89 935.66 L384.91 935.43 M385.90 925.00 L385.92 924.81 L386.43 919.45 L386.90 914.58 M387.92 904.15 L387.97 903.63 L388.49 898.45 L388.96 893.73 M390.01 883.30 L390.03 883.15 L390.54 878.14 L391.06 873.17 L391.09 872.88 M392.18 862.45 L392.60 858.50 L393.11 853.70 L393.29 852.03 M394.43 841.60 L394.66 839.52 L395.17 834.87 L395.58 831.18 M396.76 820.75 L397.22 816.66 L397.74 812.21 L397.96 810.33 M399.18 799.90 L399.28 799.06 L399.79 794.75 L400.31 790.48 L400.43 789.48 M401.70 779.05 L401.85 777.87 L402.36 773.74 L402.88 769.64 L403.01 768.63 M404.34 758.20 L404.42 757.55 L404.93 753.59 L405.45 749.66 L405.70 747.78 M407.09 737.35 L407.50 734.27 L408.02 730.50 L408.51 726.93 M409.97 716.50 L410.07 715.74 L410.59 712.13 L411.10 708.55 L411.46 706.08 M412.99 695.65 L413.16 694.51 L413.67 691.08 L414.18 687.67 L414.56 685.23 M416.17 674.80 L416.24 674.33 L416.75 671.06 L417.27 667.82 L417.78 664.61 L417.82 664.38 M419.52 653.95 L419.84 652.03 L420.35 648.95 L420.87 645.89 L421.27 643.53 M423.07 633.10 L423.43 631.00 L423.95 628.10 L424.46 625.22 L424.92 622.68 M426.83 612.25 L427.03 611.17 L427.55 608.43 L428.06 605.72 L428.57 603.03 L428.80 601.83 M430.84 591.40 L431.14 589.90 L431.66 587.34 L432.17 584.80 L432.69 582.28 L432.95 580.98 M435.14 570.55 L435.25 570.00 L435.77 567.61 L436.28 565.23 L436.80 562.88 L437.31 560.54 L437.40 560.13 M439.76 549.70 L439.88 549.16 L440.39 546.94 L440.91 544.74 L441.42 542.56 L441.94 540.39 L442.20 539.28 M444.75 528.85 L445.02 527.78 L445.53 525.74 L446.05 523.71 L446.56 521.71 L447.08 519.72 L447.41 518.43 M450.19 508.00 L450.67 506.24 L451.19 504.38 L451.70 502.54 L452.21 500.71 L452.73 498.89 L453.10 497.58 M456.17 487.15 L456.83 484.94 L459.38 476.73 M462.79 466.30 L464.51 461.19 L466.38 455.88 M470.21 445.45 L472.20 440.25 L474.28 435.03 M478.65 424.60 L479.88 421.78 L482.44 416.12 L483.36 414.18 M488.45 403.75 L490.12 400.50 L492.69 395.71 L494.01 393.33 M500.12 382.90 L500.37 382.49 L502.93 378.44 L505.49 374.56 L506.92 372.48 M514.56 362.05 L515.73 360.55 L518.30 357.40 L520.86 354.38 L523.29 351.63 M533.38 341.31 L533.66 341.03 L536.22 338.68 L538.78 336.43 L541.34 334.27 L543.80 332.28 M554.23 324.67 L556.71 323.03 L559.27 321.42 L561.83 319.88 L564.39 318.39 L564.65 318.25 M575.08 312.84 L577.20 311.84 L579.76 310.68 L582.32 309.58 L584.88 308.52 L585.50 308.27 M595.93 304.42 L597.69 303.83 L600.25 303.00 L602.81 302.21 L605.37 301.45 L606.35 301.17 M616.77 298.43 L618.18 298.10 L620.74 297.50 L623.30 296.94 L625.86 296.39 L627.20 296.12 M637.62 294.17 L638.66 293.99 L641.22 293.57 L643.79 293.17 L646.35 292.78 L648.05 292.53 M658.48 291.14 L659.15 291.06 L661.71 290.76 L664.27 290.47 L666.83 290.19 L668.90 289.97 M679.32 288.99 L679.64 288.96 L682.20 288.74 L684.76 288.54 L687.32 288.34 L689.75 288.16 M700.17 287.45 L702.69 287.30 L705.25 287.15 L707.81 287.01 L710.37 286.87 L710.60 286.86 M721.02 286.36 L723.18 286.27 L725.74 286.17 L728.30 286.06 L730.86 285.97 L731.45 285.94 M741.88 285.59 L743.67 285.53 L746.23 285.46 L748.79 285.38 L751.35 285.31 L752.30 285.29 M762.73 285.04 L764.15 285.01 L766.71 284.95 L769.28 284.90 L771.84 284.85 L773.15 284.82 M783.57 284.65 L784.64 284.63 L787.20 284.59 L789.76 284.55 L792.32 284.52 L794.00 284.49 M804.42 284.37 L805.13 284.36 L807.69 284.33 L810.25 284.30 L812.81 284.28 L814.85 284.26 M825.27 284.17 L825.62 284.16 L828.18 284.14 L830.74 284.13 L833.30 284.11 L835.70 284.09 M846.12 284.03 L848.67 284.01 L851.23 284.00 L853.79 283.99 L856.35 283.97 L856.55 283.97 M866.98 283.93 L869.15 283.92 L871.72 283.91 L874.28 283.90 L876.84 283.89 L877.40 283.89 M887.82 283.85 L889.64 283.85 L892.20 283.84 L894.77 283.84 L897.33 283.83 L898.25 283.83 M908.67 283.80 L910.13 283.80 L912.69 283.80 L915.25 283.79 L917.81 283.79 L919.10 283.78 M929.52 283.77 L930.62 283.77 L933.18 283.76 L935.74 283.76 L938.30 283.76 L939.95 283.75 M950.37 283.74 L951.11 283.74 L953.67 283.74 L956.23 283.74 L958.79 283.73 L960.80 283.73 M971.22 283.72 L971.60 283.72 L974.16 283.72 L976.72 283.72 L979.28 283.72 L981.65 283.72 M992.08 283.71 L992.08 283.71 L994.64 283.71 L997.21 283.71 L999.77 283.71 L1002.33 283.71 L1002.50 283.71 M1012.93 283.70 L1015.13 283.70 L1017.69 283.70 L1020.26 283.70 L1022.82 283.70 L1023.35 283.70 M1033.78 283.69 L1035.62 283.69 L1038.18 283.69 L1040.74 283.69 L1043.30 283.69 L1044.20 283.69 M1054.62 283.69 L1056.11 283.69 L1058.67 283.69 L1061.23 283.69 L1063.79 283.69 L1065.05 283.69 M1075.48 283.69 L1076.60 283.69 L1079.16 283.69 L1081.72 283.69 L1084.28 283.69 L1085.90 283.69 M1096.33 283.68 L1097.09 283.68 L1099.65 283.68 L1102.21 283.68 L1104.77 283.68 L1106.75 283.68 M1117.17 283.68 L1117.57 283.68 L1120.13 283.68 L1122.70 283.68 L1125.26 283.68 L1127.60 283.68 M1138.03 283.68 L1138.06 283.68 L1140.62 283.68 L1143.18 283.68 L1145.74 283.68 L1148.31 283.68 L1148.45 283.68 M1158.88 283.68 L1161.11 283.68 L1163.67 283.68 L1166.23 283.68 L1168.79 283.68 L1169.30 283.68 M1179.73 283.68 L1181.60 283.68 L1184.16 283.68 L1186.72 283.68 L1189.28 283.68 L1190.15 283.68 M1200.58 283.68 L1202.09 283.68 L1204.65 283.68 L1207.21 283.68 L1209.77 283.68 L1211.00 283.68 M1221.42 283.68 L1222.58 283.68 L1225.14 283.68 L1227.70 283.68 L1230.26 283.68 L1231.85 283.68 M1242.28 283.68 L1243.06 283.68 L1245.62 283.68 L1248.19 283.68 L1250.75 283.68 L1252.70 283.68 M1263.12 283.68 L1263.55 283.68 L1266.11 283.68 L1268.67 283.68 L1271.23 283.68 L1273.55 283.68 M1283.98 283.68 L1284.04 283.68 L1286.60 283.68 L1289.16 283.68 L1291.72 283.68 L1294.28 283.68 L1294.40 283.68 M1304.83 283.68 L1307.09 283.68 L1309.65 283.68 L1312.21 283.68 L1314.77 283.68 L1315.25 283.68 M1325.67 283.68 L1327.58 283.68 L1330.14 283.68 L1332.70 283.68 L1335.26 283.68 L1336.10 283.68 M1346.53 283.68 L1348.07 283.68 L1350.63 283.68 L1353.19 283.68 L1355.75 283.68 L1356.95 283.68 M1367.38 283.68 L1368.55 283.68 L1371.11 283.68 L1373.68 283.68 L1376.24 283.68 L1377.80 283.68 M1388.23 283.68 L1389.04 283.68 L1391.60 283.68 L1394.16 283.68 L1396.72 283.68 L1398.65 283.68 M1409.08 283.68 L1409.53 283.68 L1412.09 283.68 L1414.65 283.68 L1417.21 283.68 L1419.50 283.68 M1429.92 283.68 L1430.02 283.68 L1432.58 283.68 L1435.14 283.68 L1437.70 283.68 L1440.26 283.68 L1440.35 283.68 M1450.78 283.68 L1453.07 283.68 L1455.63 283.68 L1458.19 283.68 L1460.75 283.68 L1461.20 283.68 M1471.62 283.68 L1473.56 283.68 L1476.12 283.68 L1478.68 283.68 L1481.24 283.68 L1482.05 283.68 M1492.48 283.68 L1494.04 283.68 L1496.60 283.68 L1499.17 283.68 L1501.73 283.68 L1502.90 283.68 M1513.33 283.68 L1514.53 283.68 L1517.09 283.68 L1519.65 283.68 L1522.21 283.68 L1523.75 283.68 M1534.17 283.68 L1535.02 283.68 L1537.58 283.68 L1540.14 283.68 L1542.70 283.68 L1544.60 283.68 M1555.02 283.68 L1555.51 283.68 L1558.07 283.68 L1560.63 283.68 L1563.19 283.68 L1565.45 283.68 M1575.87 283.68 L1576.00 283.68 L1578.56 283.68 L1581.12 283.68 L1583.68 283.68 L1586.24 283.68 L1586.30 283.68 M1596.72 283.68 L1599.05 283.68 L1601.61 283.68 L1604.17 283.68 L1606.73 283.68 L1607.15 283.68 M1617.57 283.68 L1619.53 283.68 L1622.09 283.68 L1624.66 283.68 L1627.22 283.68 L1628.00 283.68 M1638.42 283.68 L1640.02 283.68 L1642.58 283.68 L1645.14 283.68 L1647.70 283.68 L1648.85 283.68 M1659.27 283.68 L1660.51 283.68 L1663.07 283.68 L1665.63 283.68 L1668.19 283.68 L1669.70 283.68 M1680.12 283.68 L1681.00 283.68 L1683.56 283.68 L1686.12 283.68 L1688.68 283.68 L1690.55 283.68 M1700.97 283.68 L1701.49 283.68 L1704.05 283.68 L1706.61 283.68 L1709.17 283.68 L1711.40 283.68 M1721.82 283.68 L1721.97 283.68 L1724.54 283.68 L1727.10 283.68 L1729.66 283.68 L1732.22 283.68 L1732.25 283.68 M1742.67 283.68 L1745.02 283.68 L1747.58 283.68 L1750.15 283.68 L1752.71 283.68 L1753.10 283.68 M1763.52 283.68 L1765.51 283.68 L1768.07 283.68 L1770.63 283.68 L1773.19 283.68 L1773.95 283.68 M1784.37 283.68 L1786.00 283.68 L1788.56 283.68 L1791.12 283.68 L1793.68 283.68 L1794.80 283.68 M1805.22 283.68 L1806.49 283.68 L1809.05 283.68 L1811.61 283.68 L1814.17 283.68 L1815.65 283.68 M1826.07 283.68 L1826.98 283.68 L1829.54 283.68 L1832.10 283.68 L1834.66 283.68 L1836.50 283.68 M1846.92 283.68 L1847.46 283.68 L1850.03 283.68 L1852.59 283.68 L1855.15 283.68 L1857.35 283.68 M1867.77 283.68 L1867.95 283.68 L1870.51 283.68 L1873.07 283.68 L1875.64 283.68 L1878.20 283.68 L1878.20 283.68 M1888.62 283.68 L1891.00 283.68 L1893.56 283.68 L1896.12 283.68 L1898.68 283.68 L1899.05 283.68 M1909.47 283.68 L1911.49 283.68 L1914.05 283.68 L1916.61 283.68 L1919.17 283.68 L1919.90 283.68 M1930.32 283.68 L1931.98 283.68 L1934.54 283.68 L1937.10 283.68 L1939.66 283.68 L1940.75 283.68 M1951.17 283.68 L1952.47 283.68 L1955.03 283.68 L1957.59 283.68 L1960.15 283.68 L1961.60 283.68 M1972.02 283.68 L1972.95 283.68 L1975.51 283.68 L1978.08 283.68 L1980.64 283.68 L1982.45 283.68" fill="none" stroke="#FF0000" stroke-width="3.1" stroke-linejoin="round"/>
<path d="M351.59 1405.66 L352.16 1403.95 L352.82 1401.97 L353.48 1400.01 L354.14 1398.05 L354.80 1396.11 L355.10 1395.24 M358.71 1384.81 L358.76 1384.68 L359.42 1382.80 L360.08 1380.94 L360.74 1379.07 L361.39 1377.22 L362.05 1375.37 L362.41 1374.39 M366.16 1363.96 L366.67 1362.53 L367.33 1360.71 L367.99 1358.88 L368.65 1357.06 L369.31 1355.24 L369.92 1353.54 M373.67 1343.11 L373.93 1342.39 L374.59 1340.54 L375.25 1338.69 L375.91 1336.83 L376.57 1334.96 L377.23 1333.09 L377.37 1332.69 M381.01 1322.26 L381.18 1321.76 L381.84 1319.86 L382.50 1317.95 L383.16 1316.04 L383.82 1314.12 L384.48 1312.21 L384.61 1311.84 M388.18 1301.41 L388.44 1300.64 L389.10 1298.70 L389.76 1296.77 L390.42 1294.82 L391.08 1292.88 L391.72 1290.99 M395.25 1280.56 L395.70 1279.24 L396.36 1277.29 L397.02 1275.34 L397.68 1273.39 L398.34 1271.43 L398.77 1270.14 M402.30 1259.71 L402.95 1257.77 L403.61 1255.82 L404.27 1253.87 L404.93 1251.92 L405.59 1249.98 L405.83 1249.29 M409.37 1238.86 L409.55 1238.35 L410.21 1236.42 L410.87 1234.49 L411.53 1232.56 L412.19 1230.64 L412.85 1228.72 L412.95 1228.44 M416.55 1218.01 L416.81 1217.27 L417.47 1215.37 L418.13 1213.48 L418.79 1211.59 L419.45 1209.70 L420.11 1207.81 L420.18 1207.59 M423.85 1197.16 L424.06 1196.56 L424.72 1194.69 L425.38 1192.83 L426.04 1190.97 L426.70 1189.12 L427.36 1187.26 L427.55 1186.74 M431.28 1176.31 L432.23 1173.68 L434.46 1167.52 L435.05 1165.89 M438.86 1155.46 L438.92 1155.30 L441.14 1149.24 L442.70 1145.04 M446.58 1134.61 L447.83 1131.28 L450.06 1125.37 L450.51 1124.19 M454.47 1113.76 L454.52 1113.65 L456.75 1107.84 L458.49 1103.34 M462.54 1092.91 L463.43 1090.63 L465.66 1084.97 L466.65 1082.49 M470.80 1072.06 L472.35 1068.20 L474.58 1062.69 L475.01 1061.64 M479.27 1051.21 L481.26 1046.37 L483.49 1041.00 L483.58 1040.79 M487.96 1030.36 L490.18 1025.12 L492.40 1019.94 M496.90 1009.51 L499.10 1004.49 L501.32 999.42 L501.47 999.09 M506.12 988.66 L508.01 984.46 L510.24 979.55 L510.84 978.24 M515.65 967.81 L516.93 965.06 L519.16 960.31 L520.53 957.39 M525.51 946.96 L525.84 946.28 L528.07 941.68 L530.30 937.11 L530.58 936.54 M535.75 926.11 L536.99 923.64 L539.22 919.22 L541.01 915.69 M546.38 905.26 L548.13 901.90 L550.36 897.66 L551.85 894.84 M557.43 884.41 L559.28 881.01 L561.51 876.93 L563.12 873.99 M568.93 863.56 L570.42 860.91 L572.65 856.99 L574.85 853.14 M580.90 842.71 L581.57 841.57 L583.79 837.79 L586.02 834.03 L587.06 832.29 M593.36 821.86 L594.94 819.28 L597.17 815.65 L599.40 812.06 L599.78 811.44 M606.34 801.01 L608.31 797.91 L610.54 794.43 L612.77 790.98 L613.02 790.59 M619.85 780.16 L621.69 777.39 L623.91 774.04 L626.14 770.72 L626.81 769.74 M633.90 759.31 L635.06 757.63 L637.29 754.40 L639.52 751.20 L641.13 748.89 M648.49 738.46 L650.66 735.42 L652.89 732.32 L655.12 729.23 L655.98 728.04 M663.60 717.61 L664.03 717.03 L666.26 714.01 L668.49 711.01 L670.72 708.02 L671.34 707.19 M679.20 696.76 L679.64 696.18 L681.87 693.25 L684.09 690.33 L686.32 687.43 L687.16 686.34 M695.23 675.91 L695.24 675.90 L697.47 673.04 L699.70 670.20 L701.93 667.36 L703.41 665.49 M711.71 655.06 L713.07 653.36 L715.30 650.60 L717.53 647.84 L719.76 645.10 L720.13 644.64 M728.69 634.21 L730.90 631.55 L733.13 628.88 L735.36 626.21 L737.40 623.79 M746.26 613.36 L746.50 613.08 L748.73 610.49 L750.96 607.91 L753.19 605.34 L755.29 602.94 M764.50 592.51 L766.56 590.20 L768.79 587.72 L771.02 585.26 L773.25 582.80 L773.90 582.09 M783.52 571.66 L784.39 570.73 L786.62 568.35 L788.85 565.99 L791.08 563.64 L793.31 561.30 L793.37 561.24 M803.48 550.81 L804.45 549.82 L806.68 547.57 L808.91 545.33 L811.14 543.10 L813.37 540.88 L813.85 540.41 M824.27 530.25 L824.52 530.02 L826.74 527.89 L828.97 525.78 L831.20 523.68 L833.43 521.59 L834.70 520.41 M845.12 510.88 L846.80 509.37 L849.03 507.39 L851.26 505.42 L853.49 503.47 L855.55 501.68 M865.97 492.80 L866.86 492.06 L869.09 490.21 L871.32 488.38 L873.55 486.57 L875.78 484.77 L876.40 484.27 M886.82 476.08 L886.92 476.00 L889.15 474.30 L891.38 472.61 L893.61 470.94 L895.84 469.28 L897.25 468.25 M907.67 460.77 L909.21 459.70 L911.44 458.16 L913.67 456.63 L915.90 455.13 L918.10 453.66 M928.52 446.92 L929.27 446.45 L931.50 445.06 L933.73 443.70 L935.96 442.34 L938.19 441.01 L938.95 440.56 M949.37 434.59 L951.56 433.38 L953.79 432.18 L956.02 430.99 L958.25 429.81 L959.80 429.01 M970.22 423.83 L971.62 423.17 L973.85 422.13 L976.08 421.10 L978.31 420.10 L980.54 419.11 L980.65 419.06 M991.07 414.69 L991.68 414.44 L993.91 413.56 L996.14 412.70 L998.37 411.85 L1000.60 411.02 L1001.50 410.69 M1011.92 407.04 L1013.97 406.36 L1016.20 405.63 L1018.43 404.92 L1020.66 404.23 L1022.35 403.71 M1032.77 400.68 L1034.03 400.33 L1036.26 399.72 L1038.49 399.13 L1040.72 398.55 L1042.95 397.98 L1043.20 397.92 M1053.62 395.40 L1054.09 395.29 L1056.32 394.79 L1058.55 394.29 L1060.78 393.80 L1063.01 393.33 L1064.05 393.11 M1074.48 391.01 L1076.38 390.64 L1078.61 390.22 L1080.84 389.81 L1083.07 389.41 L1084.90 389.08 M1095.33 387.30 L1096.44 387.11 L1098.67 386.75 L1100.90 386.39 L1103.13 386.04 L1105.36 385.69 L1105.75 385.63 M1116.17 384.06 L1116.50 384.01 L1118.73 383.68 L1120.96 383.36 L1123.19 383.04 L1125.42 382.72 L1126.60 382.55 M1137.03 381.11 L1138.79 380.87 L1141.02 380.57 L1143.25 380.27 L1145.48 379.97 L1147.45 379.71 M1157.88 378.37 L1158.85 378.25 L1161.08 377.97 L1163.31 377.69 L1165.54 377.42 L1167.77 377.14 L1168.30 377.08 M1178.73 375.84 L1178.91 375.82 L1181.14 375.56 L1183.37 375.30 L1185.60 375.05 L1187.83 374.80 L1189.15 374.65 M1199.58 373.51 L1201.20 373.34 L1203.43 373.10 L1205.66 372.87 L1207.89 372.63 L1210.00 372.42 M1220.42 371.37 L1221.26 371.29 L1223.49 371.07 L1225.72 370.86 L1227.95 370.64 L1230.17 370.43 L1230.85 370.37 M1241.28 369.41 L1241.32 369.41 L1243.55 369.21 L1245.78 369.01 L1248.01 368.82 L1250.23 368.63 L1251.70 368.50 M1262.12 367.63 L1263.61 367.51 L1265.84 367.33 L1268.07 367.15 L1270.29 366.98 L1272.52 366.80 L1272.55 366.80 M1282.98 366.01 L1283.67 365.96 L1285.90 365.80 L1288.13 365.64 L1290.35 365.48 L1292.58 365.32 L1293.40 365.27 M1303.83 364.56 L1305.96 364.42 L1308.19 364.27 L1310.41 364.13 L1312.64 363.99 L1314.25 363.89 M1324.67 363.25 L1326.02 363.17 L1328.25 363.04 L1330.47 362.91 L1332.70 362.79 L1334.93 362.66 L1335.10 362.65 M1345.53 362.09 L1346.08 362.06 L1348.31 361.94 L1350.54 361.83 L1352.76 361.72 L1354.99 361.61 L1355.95 361.56 M1366.38 361.06 L1368.37 360.97 L1370.60 360.87 L1372.82 360.77 L1375.05 360.67 L1376.80 360.59 M1387.23 360.16 L1388.43 360.11 L1390.66 360.02 L1392.88 359.93 L1395.11 359.85 L1397.34 359.76 L1397.65 359.75 M1408.08 359.38 L1408.49 359.36 L1410.72 359.29 L1412.94 359.21 L1415.17 359.14 L1417.40 359.06 L1418.50 359.03 M1428.92 358.70 L1430.78 358.65 L1433.00 358.59 L1435.23 358.52 L1437.46 358.46 L1439.35 358.41 M1449.78 358.14 L1450.84 358.11 L1453.06 358.05 L1455.29 358.00 L1457.52 357.95 L1459.75 357.90 L1460.20 357.89 M1470.62 357.66 L1470.90 357.66 L1473.12 357.61 L1475.35 357.57 L1477.58 357.52 L1479.81 357.48 L1481.05 357.46 M1491.48 357.27 L1493.18 357.25 L1495.41 357.21 L1497.64 357.17 L1499.87 357.14 L1501.90 357.11 M1512.33 356.96 L1513.24 356.95 L1515.47 356.92 L1517.70 356.90 L1519.93 356.87 L1522.16 356.84 L1522.75 356.84 M1533.17 356.73 L1533.30 356.73 L1535.53 356.70 L1537.76 356.68 L1539.99 356.66 L1542.22 356.64 L1543.60 356.63 M1554.03 356.55 L1555.59 356.54 L1557.82 356.53 L1560.05 356.51 L1562.28 356.50 L1564.45 356.48 M1574.88 356.43 L1575.65 356.43 L1577.88 356.42 L1580.11 356.41 L1582.34 356.40 L1584.57 356.39 L1585.30 356.39 M1595.73 356.36 L1597.94 356.35 L1600.17 356.35 L1602.40 356.34 L1604.63 356.34 L1606.15 356.34 M1616.58 356.32 L1618.00 356.32 L1620.23 356.32 L1622.46 356.32 L1624.69 356.32 L1626.92 356.32 L1627.00 356.32 M1637.42 356.32 L1638.06 356.32 L1640.29 356.32 L1642.52 356.32 L1644.75 356.32 L1646.98 356.32 L1647.85 356.33 M1658.28 356.34 L1660.35 356.34 L1662.58 356.34 L1664.81 356.35 L1667.04 356.35 L1668.70 356.35 M1679.12 356.37 L1680.41 356.37 L1682.64 356.38 L1684.87 356.38 L1687.10 356.39 L1689.33 356.39 L1689.55 356.39 M1699.98 356.41 L1700.47 356.41 L1702.70 356.42 L1704.93 356.42 L1707.16 356.42 L1709.39 356.43 L1710.40 356.43 M1720.83 356.45 L1722.76 356.45 L1724.99 356.46 L1727.22 356.46 L1729.45 356.46 L1731.25 356.47 M1741.67 356.48 L1742.82 356.48 L1745.05 356.48 L1747.28 356.48 L1749.51 356.49 L1751.74 356.49 L1752.10 356.49 M1762.53 356.49 L1762.88 356.49 L1765.11 356.49 L1767.34 356.49 L1769.57 356.49 L1771.80 356.49 L1772.95 356.49 M1783.38 356.48 L1785.17 356.48 L1787.40 356.47 L1789.63 356.47 L1791.86 356.46 L1793.80 356.46 M1804.23 356.43 L1805.23 356.43 L1807.46 356.42 L1809.69 356.41 L1811.92 356.40 L1814.15 356.40 L1814.65 356.39 M1825.08 356.34 L1825.29 356.34 L1827.52 356.33 L1829.75 356.32 L1831.98 356.31 L1834.21 356.29 L1835.50 356.28 M1845.92 356.21 L1847.58 356.19 L1849.81 356.18 L1852.04 356.16 L1854.27 356.14 L1856.35 356.12 M1866.78 356.01 L1867.64 356.00 L1869.87 355.98 L1872.10 355.95 L1874.33 355.93 L1876.56 355.90 L1877.20 355.89 M1887.62 355.75 L1887.70 355.75 L1889.93 355.72 L1892.16 355.69 L1894.39 355.66 L1896.62 355.62 L1898.05 355.60 M1908.48 355.42 L1909.99 355.39 L1912.22 355.35 L1914.45 355.31 L1916.68 355.27 L1918.90 355.23 M1929.33 355.01 L1930.05 354.99 L1932.28 354.94 L1934.51 354.89 L1936.74 354.84 L1938.96 354.79 L1939.75 354.77 M1950.17 354.50 L1952.34 354.45 L1954.57 354.39 L1956.80 354.33 L1959.02 354.26 L1960.60 354.22 M1971.03 353.90 L1972.40 353.86 L1974.63 353.79 L1976.86 353.72 L1979.08 353.64 L1981.31 353.57 L1981.45 353.57" fill="none" stroke="#FF8000" stroke-width="3.1" stroke-linejoin="round"/>
<g shape-rendering="crispEdges">
<rect x="332.55" y="1387.05" width="37.90" height="37.90" fill="none" stroke="#FF0000" stroke-width="3.9"/>
<rect x="349.05" y="1334.95" width="37.90" height="37.90" fill="none" stroke="#FF0000" stroke-width="3.9"/>
<rect x="366.45" y="1292.05" width="37.90" height="37.90" fill="none" stroke="#FF0000" stroke-width="3.9"/>
<rect x="469.05" y="987.75" width="37.90" height="37.90" fill="none" stroke="#FF0000" stroke-width="3.9"/>
<rect x="605.05" y="735.35" width="37.90" height="37.90" fill="none" stroke="#FF0000" stroke-width="3.9"/>
<rect x="878.05" y="405.20" width="37.90" height="37.90" fill="none" stroke="#FF0000" stroke-width="3.9"/>
<rect x="1151.05" y="338.55" width="37.90" height="37.90" fill="none" stroke="#FF0000" stroke-width="3.9"/>
<rect x="1969.05" y="336.55" width="37.90" height="37.90" fill="none" stroke="#FF0000" stroke-width="3.9"/>
<line x1="384.7" y1="1342.70" x2="384.7" y2="1364.70" stroke="#0000A0" stroke-width="3.3"/>
<line x1="384.7" y1="1402.70" x2="384.7" y2="1380.70" stroke="#0000A0" stroke-width="3.3"/>
<line x1="370.40" y1="1364.70" x2="399.00" y2="1364.70" stroke="#0000A0" stroke-width="3.6"/>
<line x1="370.40" y1="1380.70" x2="399.00" y2="1380.70" stroke="#0000A0" stroke-width="3.6"/>
<line x1="488" y1="1271.80" x2="488" y2="1291.80" stroke="#0000A0" stroke-width="3.3"/>
<line x1="488" y1="1331.80" x2="488" y2="1311.80" stroke="#0000A0" stroke-width="3.3"/>
<line x1="473.70" y1="1291.80" x2="502.30" y2="1291.80" stroke="#0000A0" stroke-width="3.6"/>
<line x1="473.70" y1="1311.80" x2="502.30" y2="1311.80" stroke="#0000A0" stroke-width="3.6"/>
<line x1="624" y1="1127.95" x2="624" y2="1139.50" stroke="#0000A0" stroke-width="3.3"/>
<line x1="624" y1="1187.95" x2="624" y2="1176.40" stroke="#0000A0" stroke-width="3.3"/>
<line x1="609.70" y1="1139.50" x2="638.30" y2="1139.50" stroke="#0000A0" stroke-width="3.6"/>
<line x1="609.70" y1="1176.40" x2="638.30" y2="1176.40" stroke="#0000A0" stroke-width="3.6"/>
<line x1="897" y1="808.95" x2="897" y2="770.50" stroke="#0000A0" stroke-width="3.3"/>
<line x1="897" y1="868.95" x2="897" y2="907.40" stroke="#0000A0" stroke-width="3.3"/>
<line x1="882.70" y1="770.50" x2="911.30" y2="770.50" stroke="#0000A0" stroke-width="3.6"/>
<line x1="882.70" y1="907.40" x2="911.30" y2="907.40" stroke="#0000A0" stroke-width="3.6"/>
<line x1="1170" y1="661.70" x2="1170" y2="666.00" stroke="#0000A0" stroke-width="3.3"/>
<line x1="1170" y1="721.70" x2="1170" y2="717.40" stroke="#0000A0" stroke-width="3.3"/>
<line x1="1155.70" y1="666.00" x2="1184.30" y2="666.00" stroke="#0000A0" stroke-width="3.6"/>
<line x1="1155.70" y1="717.40" x2="1184.30" y2="717.40" stroke="#0000A0" stroke-width="3.6"/>
<line x1="1988" y1="371.90" x2="1988" y2="365.40" stroke="#0000A0" stroke-width="3.3"/>
<line x1="1988" y1="431.90" x2="1988" y2="438.40" stroke="#0000A0" stroke-width="3.3"/>
<line x1="1973.70" y1="365.40" x2="2002.30" y2="365.40" stroke="#0000A0" stroke-width="3.6"/>
<line x1="1973.70" y1="438.40" x2="2002.30" y2="438.40" stroke="#0000A0" stroke-width="3.6"/>
<line x1="368" y1="1334.90" x2="368" y2="1349.90" stroke="#FF0000" stroke-width="3.3"/>
<line x1="368" y1="1372.90" x2="368" y2="1357.90" stroke="#FF0000" stroke-width="3.3"/>
<line x1="353.70" y1="1349.90" x2="382.30" y2="1349.90" stroke="#FF0000" stroke-width="3.6"/>
<line x1="353.70" y1="1357.90" x2="382.30" y2="1357.90" stroke="#FF0000" stroke-width="3.6"/>
<line x1="385.4" y1="1292.00" x2="385.4" y2="1305.70" stroke="#FF0000" stroke-width="3.3"/>
<line x1="385.4" y1="1330.00" x2="385.4" y2="1316.30" stroke="#FF0000" stroke-width="3.3"/>
<line x1="371.10" y1="1305.70" x2="399.70" y2="1305.70" stroke="#FF0000" stroke-width="3.6"/>
<line x1="371.10" y1="1316.30" x2="399.70" y2="1316.30" stroke="#FF0000" stroke-width="3.6"/>
<line x1="488" y1="987.70" x2="488" y2="977.40" stroke="#FF0000" stroke-width="3.3"/>
<line x1="488" y1="1025.70" x2="488" y2="1036.00" stroke="#FF0000" stroke-width="3.3"/>
<line x1="473.70" y1="977.40" x2="502.30" y2="977.40" stroke="#FF0000" stroke-width="3.6"/>
<line x1="473.70" y1="1036.00" x2="502.30" y2="1036.00" stroke="#FF0000" stroke-width="3.6"/>
<line x1="624" y1="735.30" x2="624" y2="722.10" stroke="#FF0000" stroke-width="3.3"/>
<line x1="624" y1="773.30" x2="624" y2="786.50" stroke="#FF0000" stroke-width="3.3"/>
<line x1="609.70" y1="722.10" x2="638.30" y2="722.10" stroke="#FF0000" stroke-width="3.6"/>
<line x1="609.70" y1="786.50" x2="638.30" y2="786.50" stroke="#FF0000" stroke-width="3.6"/>
<line x1="897" y1="405.15" x2="897" y2="387.30" stroke="#FF0000" stroke-width="3.3"/>
<line x1="897" y1="443.15" x2="897" y2="461.00" stroke="#FF0000" stroke-width="3.3"/>
<line x1="882.70" y1="387.30" x2="911.30" y2="387.30" stroke="#FF0000" stroke-width="3.6"/>
<line x1="882.70" y1="461.00" x2="911.30" y2="461.00" stroke="#FF0000" stroke-width="3.6"/>
<line x1="1170" y1="338.50" x2="1170" y2="330.50" stroke="#FF0000" stroke-width="3.3"/>
<line x1="1170" y1="376.50" x2="1170" y2="384.50" stroke="#FF0000" stroke-width="3.3"/>
<line x1="1155.70" y1="330.50" x2="1184.30" y2="330.50" stroke="#FF0000" stroke-width="3.6"/>
<line x1="1155.70" y1="384.50" x2="1184.30" y2="384.50" stroke="#FF0000" stroke-width="3.6"/>
<line x1="1988" y1="336.50" x2="1988" y2="294.00" stroke="#FF0000" stroke-width="3.3"/>
<line x1="1988" y1="374.50" x2="1988" y2="417.00" stroke="#FF0000" stroke-width="3.3"/>
<line x1="1973.70" y1="294.00" x2="2002.30" y2="294.00" stroke="#FF0000" stroke-width="3.6"/>
<line x1="1973.70" y1="417.00" x2="2002.30" y2="417.00" stroke="#FF0000" stroke-width="3.6"/>
<line x1="488" y1="594.25" x2="488" y2="585.50" stroke="#800080" stroke-width="3.3"/>
<line x1="488" y1="632.25" x2="488" y2="641.00" stroke="#800080" stroke-width="3.3"/>
<line x1="473.70" y1="585.50" x2="502.30" y2="585.50" stroke="#800080" stroke-width="3.6"/>
<line x1="473.70" y1="641.00" x2="502.30" y2="641.00" stroke="#800080" stroke-width="3.6"/>
<line x1="624" y1="470.75" x2="624" y2="422.10" stroke="#800080" stroke-width="3.3"/>
<line x1="624" y1="508.75" x2="624" y2="557.40" stroke="#800080" stroke-width="3.3"/>
<line x1="609.70" y1="422.10" x2="638.30" y2="422.10" stroke="#800080" stroke-width="3.6"/>
<line x1="609.70" y1="557.40" x2="638.30" y2="557.40" stroke="#800080" stroke-width="3.6"/>
<line x1="897" y1="415.20" x2="897" y2="408.90" stroke="#800080" stroke-width="3.3"/>
<line x1="897" y1="453.20" x2="897" y2="459.50" stroke="#800080" stroke-width="3.3"/>
<line x1="882.70" y1="408.90" x2="911.30" y2="408.90" stroke="#800080" stroke-width="3.6"/>
<line x1="882.70" y1="459.50" x2="911.30" y2="459.50" stroke="#800080" stroke-width="3.6"/>
<line x1="1170" y1="371.45" x2="1170" y2="331.00" stroke="#800080" stroke-width="3.3"/>
<line x1="1170" y1="409.45" x2="1170" y2="449.90" stroke="#800080" stroke-width="3.3"/>
<line x1="1155.70" y1="331.00" x2="1184.30" y2="331.00" stroke="#800080" stroke-width="3.6"/>
<line x1="1155.70" y1="449.90" x2="1184.30" y2="449.90" stroke="#800080" stroke-width="3.6"/>
<line x1="1988" y1="347.50" x2="1988" y2="311.00" stroke="#800080" stroke-width="3.3"/>
<line x1="1988" y1="385.50" x2="1988" y2="422.00" stroke="#800080" stroke-width="3.3"/>
<line x1="1973.70" y1="311.00" x2="2002.30" y2="311.00" stroke="#800080" stroke-width="3.6"/>
<line x1="1973.70" y1="422.00" x2="2002.30" y2="422.00" stroke="#800080" stroke-width="3.6"/>
<line x1="385.1" y1="840.00" x2="385.1" y2="816.00" stroke="#FF0000" stroke-width="3.3"/>
<line x1="385.1" y1="894.00" x2="385.1" y2="918.00" stroke="#FF0000" stroke-width="3.3"/>
<line x1="370.80" y1="816.00" x2="399.40" y2="816.00" stroke="#FF0000" stroke-width="3.6"/>
<line x1="370.80" y1="918.00" x2="399.40" y2="918.00" stroke="#FF0000" stroke-width="3.6"/>
<line x1="488.3" y1="369.85" x2="488.3" y2="359.90" stroke="#FF0000" stroke-width="3.3"/>
<line x1="488.3" y1="423.85" x2="488.3" y2="433.80" stroke="#FF0000" stroke-width="3.3"/>
<line x1="474.00" y1="359.90" x2="502.60" y2="359.90" stroke="#FF0000" stroke-width="3.6"/>
<line x1="474.00" y1="433.80" x2="502.60" y2="433.80" stroke="#FF0000" stroke-width="3.6"/>
<line x1="624.4" y1="309.70" x2="624.4" y2="282.00" stroke="#FF0000" stroke-width="3.3"/>
<line x1="624.4" y1="363.70" x2="624.4" y2="391.40" stroke="#FF0000" stroke-width="3.3"/>
<line x1="610.10" y1="282.00" x2="638.70" y2="282.00" stroke="#FF0000" stroke-width="3.6"/>
<line x1="610.10" y1="391.40" x2="638.70" y2="391.40" stroke="#FF0000" stroke-width="3.6"/>
<line x1="897" y1="290.50" x2="897" y2="288.50" stroke="#FF0000" stroke-width="3.3"/>
<line x1="897" y1="344.50" x2="897" y2="346.50" stroke="#FF0000" stroke-width="3.3"/>
<line x1="882.70" y1="288.50" x2="911.30" y2="288.50" stroke="#FF0000" stroke-width="3.6"/>
<line x1="882.70" y1="346.50" x2="911.30" y2="346.50" stroke="#FF0000" stroke-width="3.6"/>
<line x1="1170" y1="240.55" x2="1170" y2="220.40" stroke="#FF0000" stroke-width="3.3"/>
<line x1="1170" y1="294.55" x2="1170" y2="314.70" stroke="#FF0000" stroke-width="3.3"/>
<line x1="1155.70" y1="220.40" x2="1184.30" y2="220.40" stroke="#FF0000" stroke-width="3.6"/>
<line x1="1155.70" y1="314.70" x2="1184.30" y2="314.70" stroke="#FF0000" stroke-width="3.6"/>
<line x1="1988" y1="206.70" x2="1988" y2="200.00" stroke="#FF0000" stroke-width="3.3"/>
<line x1="1988" y1="260.70" x2="1988" y2="267.40" stroke="#FF0000" stroke-width="3.3"/>
<line x1="1973.70" y1="200.00" x2="2002.30" y2="200.00" stroke="#FF0000" stroke-width="3.6"/>
<line x1="1973.70" y1="267.40" x2="2002.30" y2="267.40" stroke="#FF0000" stroke-width="3.6"/>
<line x1="359.4" y1="1070.75" x2="359.4" y2="1068.50" stroke="#000000" stroke-width="3.3"/>
<line x1="359.4" y1="1112.75" x2="359.4" y2="1115.00" stroke="#000000" stroke-width="3.3"/>
<line x1="345.10" y1="1068.50" x2="373.70" y2="1068.50" stroke="#000000" stroke-width="3.6"/>
<line x1="345.10" y1="1115.00" x2="373.70" y2="1115.00" stroke="#000000" stroke-width="3.6"/>
<line x1="368.3" y1="905.20" x2="368.3" y2="900.40" stroke="#000000" stroke-width="3.3"/>
<line x1="368.3" y1="947.20" x2="368.3" y2="952.00" stroke="#000000" stroke-width="3.3"/>
<line x1="354.00" y1="900.40" x2="382.60" y2="900.40" stroke="#000000" stroke-width="3.6"/>
<line x1="354.00" y1="952.00" x2="382.60" y2="952.00" stroke="#000000" stroke-width="3.6"/>
<line x1="385" y1="689.75" x2="385" y2="685.00" stroke="#000000" stroke-width="3.3"/>
<line x1="385" y1="731.75" x2="385" y2="736.50" stroke="#000000" stroke-width="3.3"/>
<line x1="370.70" y1="685.00" x2="399.30" y2="685.00" stroke="#000000" stroke-width="3.6"/>
<line x1="370.70" y1="736.50" x2="399.30" y2="736.50" stroke="#000000" stroke-width="3.6"/>
<line x1="487.5" y1="333.65" x2="487.5" y2="298.90" stroke="#000000" stroke-width="3.3"/>
<line x1="487.5" y1="375.65" x2="487.5" y2="410.40" stroke="#000000" stroke-width="3.3"/>
<line x1="473.20" y1="298.90" x2="501.80" y2="298.90" stroke="#000000" stroke-width="3.6"/>
<line x1="473.20" y1="410.40" x2="501.80" y2="410.40" stroke="#000000" stroke-width="3.6"/>
<line x1="624.4" y1="248.95" x2="624.4" y2="240.50" stroke="#000000" stroke-width="3.3"/>
<line x1="624.4" y1="290.95" x2="624.4" y2="299.40" stroke="#000000" stroke-width="3.3"/>
<line x1="610.10" y1="240.50" x2="638.70" y2="240.50" stroke="#000000" stroke-width="3.6"/>
<line x1="610.10" y1="299.40" x2="638.70" y2="299.40" stroke="#000000" stroke-width="3.6"/>
<line x1="897" y1="213.25" x2="897" y2="165.50" stroke="#000000" stroke-width="3.3"/>
<line x1="897" y1="255.25" x2="897" y2="303.00" stroke="#000000" stroke-width="3.3"/>
<line x1="882.70" y1="165.50" x2="911.30" y2="165.50" stroke="#000000" stroke-width="3.6"/>
<line x1="882.70" y1="303.00" x2="911.30" y2="303.00" stroke="#000000" stroke-width="3.6"/>
<line x1="1169.4" y1="169.85" x2="1169.4" y2="159.50" stroke="#000000" stroke-width="3.3"/>
<line x1="1169.4" y1="211.85" x2="1169.4" y2="222.20" stroke="#000000" stroke-width="3.3"/>
<line x1="1155.10" y1="159.50" x2="1183.70" y2="159.50" stroke="#000000" stroke-width="3.6"/>
<line x1="1155.10" y1="222.20" x2="1183.70" y2="222.20" stroke="#000000" stroke-width="3.6"/>
<line x1="1987.5" y1="126.20" x2="1987.5" y2="107.00" stroke="#000000" stroke-width="3.3"/>
<line x1="1987.5" y1="168.20" x2="1987.5" y2="187.40" stroke="#000000" stroke-width="3.3"/>
<line x1="1973.20" y1="107.00" x2="2001.80" y2="107.00" stroke="#000000" stroke-width="3.6"/>
<line x1="1973.20" y1="187.40" x2="2001.80" y2="187.40" stroke="#000000" stroke-width="3.6"/>
</g>
<g fill="#000000" shape-rendering="crispEdges">
<rect x="290.00" y="59.00" width="1767.00" height="6.00"/>
<rect x="314.00" y="59.00" width="7.00" height="1415.00"/>
<rect x="317.00" y="1470.00" width="1743.00" height="7.00"/>
<rect x="2053.00" y="62.50" width="7.00" height="1439.50"/>
<rect x="290.00" y="1403.25" width="24.00" height="6.50"/>
<rect x="290.00" y="1134.35" width="24.00" height="6.50"/>
<rect x="290.00" y="865.45" width="24.00" height="6.50"/>
<rect x="290.00" y="596.55" width="24.00" height="6.50"/>
<rect x="290.00" y="327.65" width="24.00" height="6.50"/>
<rect x="303.00" y="1268.80" width="11.00" height="6.50"/>
<rect x="303.00" y="999.90" width="11.00" height="6.50"/>
<rect x="303.00" y="731.00" width="11.00" height="6.50"/>
<rect x="303.00" y="462.10" width="11.00" height="6.50"/>
<rect x="303.00" y="193.20" width="11.00" height="6.50"/>
<rect x="349.00" y="1477.00" width="6.00" height="25.00"/>
<rect x="689.90" y="1477.00" width="6.00" height="25.00"/>
<rect x="1030.80" y="1477.00" width="6.00" height="25.00"/>
<rect x="1371.70" y="1477.00" width="6.00" height="25.00"/>
<rect x="1712.60" y="1477.00" width="6.00" height="25.00"/>
<rect x="519.45" y="1477.00" width="6.00" height="10.00"/>
<rect x="860.35" y="1477.00" width="6.00" height="10.00"/>
<rect x="1201.25" y="1477.00" width="6.00" height="10.00"/>
<rect x="1542.15" y="1477.00" width="6.00" height="10.00"/>
<rect x="1883.05" y="1477.00" width="6.00" height="10.00"/>
<rect x="662.30" y="65.00" width="6.00" height="25.00"/>
<rect x="1010.10" y="65.00" width="6.00" height="25.00"/>
<rect x="1357.90" y="65.00" width="6.00" height="25.00"/>
<rect x="1705.70" y="65.00" width="6.00" height="25.00"/>
<rect x="488.40" y="65.00" width="6.00" height="11.00"/>
<rect x="836.20" y="65.00" width="6.00" height="11.00"/>
<rect x="1184.00" y="65.00" width="6.00" height="11.00"/>
<rect x="1531.80" y="65.00" width="6.00" height="11.00"/>
<rect x="1879.60" y="65.00" width="6.00" height="11.00"/>
<rect x="2028.00" y="341.05" width="25.00" height="6.50"/>
<rect x="2028.00" y="623.35" width="25.00" height="6.50"/>
<rect x="2028.00" y="905.65" width="25.00" height="6.50"/>
<rect x="2028.00" y="1187.95" width="25.00" height="6.50"/>
<rect x="2042.00" y="199.90" width="11.00" height="6.50"/>
<rect x="2042.00" y="482.20" width="11.00" height="6.50"/>
<rect x="2042.00" y="764.50" width="11.00" height="6.50"/>
<rect x="2042.00" y="1046.80" width="11.00" height="6.50"/>
<rect x="2042.00" y="1329.10" width="11.00" height="6.50"/>
</g>
<text x="272.67" y="1429.83" font-family="'Liberation Serif','Times New Roman',serif" font-weight="bold" font-size="83.33" text-anchor="end">0</text>
<text x="272.67" y="1160.93" font-family="'Liberation Serif','Times New Roman',serif" font-weight="bold" font-size="83.33" text-anchor="end">20</text>
<text x="272.67" y="892.03" font-family="'Liberation Serif','Times New Roman',serif" font-weight="bold" font-size="83.33" text-anchor="end">40</text>
<text x="272.67" y="623.13" font-family="'Liberation Serif','Times New Roman',serif" font-weight="bold" font-size="83.33" text-anchor="end">60</text>
<text x="272.67" y="354.23" font-family="'Liberation Serif','Times New Roman',serif" font-weight="bold" font-size="83.33" text-anchor="end">80</text>
<text x="272.67" y="85.33" font-family="'Liberation Serif','Times New Roman',serif" font-weight="bold" font-size="83.33" text-anchor="end">100</text>
<text x="352.00" y="1582.85" font-family="'Liberation Serif','Times New Roman',serif" font-weight="bold" font-size="83.33" text-anchor="middle">0</text>
<text x="692.90" y="1582.85" font-family="'Liberation Serif','Times New Roman',serif" font-weight="bold" font-size="83.33" text-anchor="middle">10</text>
<text x="1033.80" y="1582.85" font-family="'Liberation Serif','Times New Roman',serif" font-weight="bold" font-size="83.33" text-anchor="middle">20</text>
<text x="1374.70" y="1582.85" font-family="'Liberation Serif','Times New Roman',serif" font-weight="bold" font-size="83.33" text-anchor="middle">30</text>
<text x="1715.60" y="1582.85" font-family="'Liberation Serif','Times New Roman',serif" font-weight="bold" font-size="83.33" text-anchor="middle">40</text>
<text x="2056.50" y="1582.85" font-family="'Liberation Serif','Times New Roman',serif" font-weight="bold" font-size="83.33" text-anchor="middle">50</text>
<text x="1019.54" y="1726.7" font-family="'Liberation Serif','Times New Roman',serif" font-weight="bold" font-size="93" textLength="200.89" lengthAdjust="spacingAndGlyphs">Time</text>
<text x="1243.59" y="1726.7" font-family="'Liberation Serif','Times New Roman',serif" font-weight="bold" font-size="90" textLength="111.44" lengthAdjust="spacingAndGlyphs">(h)</text>
<g transform="translate(91.7,0) rotate(-90)">
<text x="-1314.53" y="0" font-family="'Liberation Serif','Times New Roman',serif" font-weight="bold" font-size="94" textLength="249.32" lengthAdjust="spacingAndGlyphs">FAEE</text>
<text x="-1040.39" y="0" font-family="'Liberation Serif','Times New Roman',serif" font-weight="bold" font-size="94" textLength="194.32" lengthAdjust="spacingAndGlyphs">mass</text>
<text x="-823.74" y="0" font-family="'Liberation Serif','Times New Roman',serif" font-weight="bold" font-size="94" textLength="216.68" lengthAdjust="spacingAndGlyphs">yield,</text>
<text x="-585.08" y="0" font-family="'Liberation Serif','Times New Roman',serif" font-weight="bold" font-size="94" textLength="123.05" lengthAdjust="spacingAndGlyphs">wt.</text>
<text x="-441.79" y="0" font-family="'Liberation Serif','Times New Roman',serif" font-weight="bold" font-size="94" textLength="98.01" lengthAdjust="spacingAndGlyphs">%</text>
</g>
</svg>
</body></html>
